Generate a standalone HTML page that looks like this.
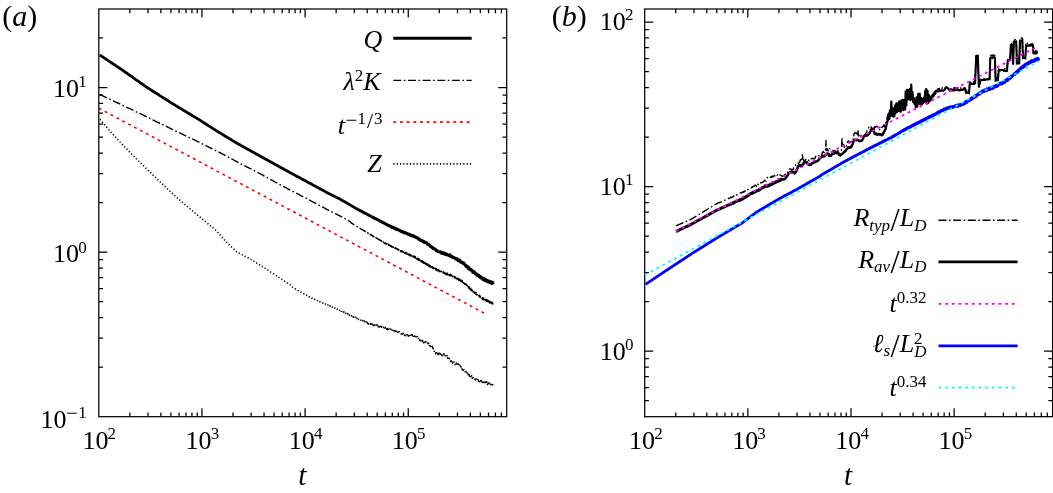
<!DOCTYPE html>
<html lang="en"><head><meta charset="utf-8"><title>Figure</title>
<style>html,body{margin:0;padding:0;background:#fff}svg{display:block;will-change:transform}</style></head>
<body>
<svg width="1053" height="493" viewBox="0 0 1053 493" font-family='"Liberation Serif", "DejaVu Serif", serif' fill="#000">
<rect x="98.8" y="9" width="407.9" height="407.7" fill="none" stroke="#000" stroke-width="1.25"/>
<path d="M129.85 416.7v-4.2M129.85 9v4.2M148.02 416.7v-4.2M148.02 9v4.2M160.9 416.7v-4.2M160.9 9v4.2M170.9 416.7v-4.2M170.9 9v4.2M179.07 416.7v-4.2M179.07 9v4.2M185.97 416.7v-4.2M185.97 9v4.2M191.95 416.7v-4.2M191.95 9v4.2M197.23 416.7v-4.2M197.23 9v4.2M201.95 416.7v-8.5M201.95 9v8.5M233 416.7v-4.2M233 9v4.2M251.17 416.7v-4.2M251.17 9v4.2M264.05 416.7v-4.2M264.05 9v4.2M274.05 416.7v-4.2M274.05 9v4.2M282.22 416.7v-4.2M282.22 9v4.2M289.12 416.7v-4.2M289.12 9v4.2M295.1 416.7v-4.2M295.1 9v4.2M300.38 416.7v-4.2M300.38 9v4.2M305.1 416.7v-8.5M305.1 9v8.5M336.15 416.7v-4.2M336.15 9v4.2M354.32 416.7v-4.2M354.32 9v4.2M367.2 416.7v-4.2M367.2 9v4.2M377.2 416.7v-4.2M377.2 9v4.2M385.37 416.7v-4.2M385.37 9v4.2M392.27 416.7v-4.2M392.27 9v4.2M398.25 416.7v-4.2M398.25 9v4.2M403.53 416.7v-4.2M403.53 9v4.2M408.25 416.7v-8.5M408.25 9v8.5M439.3 416.7v-4.2M439.3 9v4.2M457.47 416.7v-4.2M457.47 9v4.2M470.35 416.7v-4.2M470.35 9v4.2M480.35 416.7v-4.2M480.35 9v4.2M488.52 416.7v-4.2M488.52 9v4.2M495.42 416.7v-4.2M495.42 9v4.2M501.4 416.7v-4.2M501.4 9v4.2M98.8 367.14h4.2M506.7 367.14h-4.2M98.8 338.16h4.2M506.7 338.16h-4.2M98.8 317.6h4.2M506.7 317.6h-4.2M98.8 301.65h4.2M506.7 301.65h-4.2M98.8 288.62h4.2M506.7 288.62h-4.2M98.8 277.6h4.2M506.7 277.6h-4.2M98.8 268.05h4.2M506.7 268.05h-4.2M98.8 259.64h4.2M506.7 259.64h-4.2M98.8 252.1h8.5M506.7 252.1h-8.5M98.8 202.56h4.2M506.7 202.56h-4.2M98.8 173.58h4.2M506.7 173.58h-4.2M98.8 153.02h4.2M506.7 153.02h-4.2M98.8 137.07h4.2M506.7 137.07h-4.2M98.8 124.04h4.2M506.7 124.04h-4.2M98.8 113.02h4.2M506.7 113.02h-4.2M98.8 103.47h4.2M506.7 103.47h-4.2M98.8 95.06h4.2M506.7 95.06h-4.2M98.8 87.52h8.5M506.7 87.52h-8.5M98.8 37.98h4.2M506.7 37.98h-4.2" fill="none" stroke="#000" stroke-width="1.25"/>
<text x="82.4" y="449.15" font-size="26" text-anchor="start">10<tspan font-size="17" dx="-0.8" dy="-9.7">2</tspan></text>
<text x="185.55" y="449.15" font-size="26" text-anchor="start">10<tspan font-size="17" dx="-0.8" dy="-9.7">3</tspan></text>
<text x="288.7" y="449.15" font-size="26" text-anchor="start">10<tspan font-size="17" dx="-0.8" dy="-9.7">4</tspan></text>
<text x="391.85" y="449.15" font-size="26" text-anchor="start">10<tspan font-size="17" dx="-0.8" dy="-9.7">5</tspan></text>
<text x="53" y="97" font-size="26" text-anchor="start">10<tspan font-size="17" dx="-0.8" dy="-9.7">1</tspan></text>
<text x="53" y="262.3" font-size="26" text-anchor="start">10<tspan font-size="17" dx="-0.8" dy="-9.7">0</tspan></text>
<text x="40.5" y="427.5" font-size="26">10<tspan font-size="21" dx="-0.5" dy="-7.6">−</tspan><tspan font-size="17" dx="0.4" dy="-2.1">1</tspan></text>
<rect x="644.7" y="9" width="407.9" height="407.7" fill="none" stroke="#000" stroke-width="1.25"/>
<path d="M675.75 416.7v-4.2M675.75 9v4.2M693.92 416.7v-4.2M693.92 9v4.2M706.8 416.7v-4.2M706.8 9v4.2M716.8 416.7v-4.2M716.8 9v4.2M724.97 416.7v-4.2M724.97 9v4.2M731.87 416.7v-4.2M731.87 9v4.2M737.85 416.7v-4.2M737.85 9v4.2M743.13 416.7v-4.2M743.13 9v4.2M747.85 416.7v-8.5M747.85 9v8.5M778.9 416.7v-4.2M778.9 9v4.2M797.07 416.7v-4.2M797.07 9v4.2M809.95 416.7v-4.2M809.95 9v4.2M819.95 416.7v-4.2M819.95 9v4.2M828.12 416.7v-4.2M828.12 9v4.2M835.02 416.7v-4.2M835.02 9v4.2M841 416.7v-4.2M841 9v4.2M846.28 416.7v-4.2M846.28 9v4.2M851 416.7v-8.5M851 9v8.5M882.05 416.7v-4.2M882.05 9v4.2M900.22 416.7v-4.2M900.22 9v4.2M913.1 416.7v-4.2M913.1 9v4.2M923.1 416.7v-4.2M923.1 9v4.2M931.27 416.7v-4.2M931.27 9v4.2M938.17 416.7v-4.2M938.17 9v4.2M944.15 416.7v-4.2M944.15 9v4.2M949.43 416.7v-4.2M949.43 9v4.2M954.15 416.7v-8.5M954.15 9v8.5M985.2 416.7v-4.2M985.2 9v4.2M1003.37 416.7v-4.2M1003.37 9v4.2M1016.25 416.7v-4.2M1016.25 9v4.2M1026.25 416.7v-4.2M1026.25 9v4.2M1034.42 416.7v-4.2M1034.42 9v4.2M1041.32 416.7v-4.2M1041.32 9v4.2M1047.3 416.7v-4.2M1047.3 9v4.2M644.7 400.74h4.2M1052.6 400.74h-4.2M644.7 387.7h4.2M1052.6 387.7h-4.2M644.7 376.69h4.2M1052.6 376.69h-4.2M644.7 367.14h4.2M1052.6 367.14h-4.2M644.7 358.72h4.2M1052.6 358.72h-4.2M644.7 351.19h8.5M1052.6 351.19h-8.5M644.7 301.65h4.2M1052.6 301.65h-4.2M644.7 272.67h4.2M1052.6 272.67h-4.2M644.7 252.1h4.2M1052.6 252.1h-4.2M644.7 236.16h4.2M1052.6 236.16h-4.2M644.7 223.12h4.2M1052.6 223.12h-4.2M644.7 212.11h4.2M1052.6 212.11h-4.2M644.7 202.56h4.2M1052.6 202.56h-4.2M644.7 194.14h4.2M1052.6 194.14h-4.2M644.7 186.61h8.5M1052.6 186.61h-8.5M644.7 137.07h4.2M1052.6 137.07h-4.2M644.7 108.09h4.2M1052.6 108.09h-4.2M644.7 87.52h4.2M1052.6 87.52h-4.2M644.7 71.58h4.2M1052.6 71.58h-4.2M644.7 58.54h4.2M1052.6 58.54h-4.2M644.7 47.53h4.2M1052.6 47.53h-4.2M644.7 37.98h4.2M1052.6 37.98h-4.2M644.7 29.56h4.2M1052.6 29.56h-4.2M644.7 22.03h8.5M1052.6 22.03h-8.5" fill="none" stroke="#000" stroke-width="1.25"/>
<text x="629" y="449.15" font-size="26" text-anchor="start">10<tspan font-size="17" dx="-0.8" dy="-9.7">2</tspan></text>
<text x="732.15" y="449.15" font-size="26" text-anchor="start">10<tspan font-size="17" dx="-0.8" dy="-9.7">3</tspan></text>
<text x="835.3" y="449.15" font-size="26" text-anchor="start">10<tspan font-size="17" dx="-0.8" dy="-9.7">4</tspan></text>
<text x="938.45" y="449.15" font-size="26" text-anchor="start">10<tspan font-size="17" dx="-0.8" dy="-9.7">5</tspan></text>
<text x="599.85" y="29.8" font-size="26" text-anchor="start">10<tspan font-size="17" dx="-0.8" dy="-9.7">2</tspan></text>
<text x="599.85" y="195" font-size="26" text-anchor="start">10<tspan font-size="17" dx="-0.8" dy="-9.7">1</tspan></text>
<text x="599.85" y="359.9" font-size="26" text-anchor="start">10<tspan font-size="17" dx="-0.8" dy="-9.7">0</tspan></text>
<text x="302.2" y="485.1" font-size="29" font-style="italic" text-anchor="middle">t</text>
<text x="848.1" y="485.1" font-size="29" font-style="italic" text-anchor="middle">t</text>
<text x="2.3" y="25.7" font-size="30">(<tspan font-style="italic">a</tspan>)</text>
<text x="551.8" y="25.5" font-size="30">(<tspan font-style="italic">b</tspan>)</text>
<path d="M98.8 108.2L486.6 314.47" fill="none" stroke="#ff0000" stroke-width="1.6" stroke-dasharray="2.9 3.77"/>
<path d="M99.8 119.3L100.8 120.45L101.8 121.6L102.8 122.76L103.8 123.91L104.8 125.06L105.8 126.21L106.8 127.36L107.8 128.51L108.8 129.67L109.8 130.81L110.8 131.95L111.8 133.06L112.8 134.16L113.8 135.25L114.8 136.33L115.8 137.42L116.8 138.51L117.8 139.6L118.8 140.68L119.8 141.77L120.8 142.86L121.8 143.94L122.8 144.99L123.8 146.03L124.8 147.05L125.8 148.08L126.8 149.1L127.8 150.12L128.8 151.15L129.8 152.17L130.8 153.19L131.8 154.22L132.8 155.24L133.8 156.26L134.8 157.28L135.8 158.28L136.8 159.27L137.8 160.25L138.8 161.23L139.8 162.2L140.8 163.18L141.8 164.16L142.8 165.13L143.8 166.11L144.8 167.09L145.8 168.07L146.8 169.04L147.8 170.02L148.8 170.99L149.8 171.96L150.8 172.92L151.8 173.88L152.8 174.84L153.8 175.81L154.8 176.77L155.8 177.73L156.8 178.69L157.8 179.66L158.8 180.62L159.8 181.58L160.8 182.54L161.8 183.5L162.8 184.44L163.8 185.38L164.8 186.32L165.8 187.26L166.8 188.2L167.8 189.14L168.8 190.08L169.8 191.02L170.8 191.96L171.8 192.9L172.8 193.84L173.8 194.78L174.8 195.7L175.8 196.59L176.8 197.47L177.8 198.33L178.8 199.2L179.8 200.06L180.8 200.92L181.8 201.79L182.8 202.65L183.8 203.51L184.8 204.38L185.8 205.24L186.8 206.1L187.8 206.96L188.8 207.81L189.8 208.65L190.8 209.48L191.8 210.32L192.8 211.15L193.8 211.98L194.8 212.82L195.8 213.65L196.8 214.48L197.8 215.32L198.8 216.15L199.8 216.98L200.8 217.81L201.8 218.64L202.8 219.47L203.8 220.29L204.8 221.11L205.8 221.93L206.8 222.75L207.8 223.57L208.8 224.39L209.8 225.21L210.8 226.03L211.8 226.85L212.8 227.67L213.8 228.49L214.8 229.33L215.8 230.23L216.8 231.24L217.8 232.33L218.8 233.45L219.8 234.58L220.8 235.7L221.8 236.83L222.8 237.95L223.8 239.08L224.8 240.2L225.8 241.3L226.8 242.35L227.8 243.35L228.8 244.33L229.8 245.3L230.8 246.27L231.8 247.24L232.8 248.21L233.8 249.18L234.8 250.14L235.8 251.05L236.8 251.83L237.8 252.46L238.8 253.01L239.8 253.54L240.8 254.06L241.8 254.59L242.8 255.12L243.8 255.64L244.8 256.17L245.8 256.69L246.8 257.22L247.8 257.75L248.8 258.27L249.8 258.8L250.8 259.34L251.8 259.9L252.8 260.51L253.8 261.14L254.8 261.78L255.8 262.42L256.8 263.05L257.8 263.69L258.8 264.33L259.8 264.97L260.8 265.61L261.8 266.25L262.8 266.88L263.8 267.52L264.8 268.16L265.8 268.8L266.8 269.45L267.8 270.1L268.8 270.77L269.8 271.43L270.8 272.1L271.8 272.77L272.8 273.43L273.8 274.1L274.8 274.77L275.8 275.43L276.8 276.1L277.8 276.77L278.8 277.43L279.8 278.1L280.8 278.77L281.8 279.43L282.8 280.1L283.8 280.76L284.8 281.43L285.8 282.09L286.8 282.76L287.8 283.42L288.8 284.09L289.8 284.75L290.8 285.41L291.05 286.08L291.3 286.24L291.55 286.41L291.8 286.57L292.05 286.74L292.3 286.9L292.55 287.06L292.8 287.24L293.05 287.39L293.3 287.57L293.55 287.72L293.8 287.88L294.05 288.07L294.3 288.26L294.55 288.38L294.8 288.55L295.05 288.74L295.3 288.93L295.55 289.06L295.8 289.21L296.05 289.43L296.3 289.49L296.55 289.72L296.8 289.82L297.05 289.95L297.3 290.09L297.55 290.26L297.8 290.47L298.05 290.53L298.3 290.72L298.55 290.87L298.8 290.97L299.05 291.13L299.3 291.2L299.55 291.33L299.8 291.49L300.05 291.71L300.3 291.8L300.55 291.92L300.8 292.11L301.05 292.22L301.3 292.33L301.55 292.56L301.8 292.68L302.05 292.73L302.3 292.94L302.55 293.07L302.8 293.28L303.05 293.39L303.3 293.43L303.55 293.72L303.8 293.67L304.05 293.87L304.3 294.09L304.55 294.08L304.8 294.3L305.05 294.33L305.3 294.62L305.55 294.79L305.8 294.88L306.05 295.09L306.3 295.08L306.55 295.32L306.8 295.44L307.05 295.57L307.3 295.67L307.55 295.92L307.8 296.09L308.05 296.09L308.3 296.29L308.55 296.24L308.8 296.58L309.05 296.7L309.3 296.95L309.55 297.03L309.8 297L310.05 297.17L310.3 297.4L310.55 297.31L310.8 297.6L311.05 297.63L311.3 297.74L311.55 297.84L311.8 298.22L312.05 298.12L312.3 298.28L312.55 298.45L312.8 298.75L313.05 298.57L313.3 298.83L313.55 298.98L313.8 299.22L314.05 299.31L314.3 299.44L314.55 299.32L314.8 299.49L315.05 299.57L315.3 299.9L315.55 300.05L315.8 299.82L316.05 299.94L316.3 300.07L316.55 300.19L316.8 300.41L317.05 300.57L317.3 300.53L317.55 300.52L317.8 300.82L318.05 300.91L318.3 301.12L318.55 301.41L318.8 301.4L319.05 301.43L319.3 301.59L319.55 301.73L319.8 301.54L320.05 302.07L320.3 302.12L320.55 302.28L320.8 302.36L321.05 302.26L321.3 302.38L321.55 302.33L321.8 302.72L322.05 302.53L322.3 302.64L322.55 302.83L322.8 302.92L323.05 303.12L323.3 303.08L323.55 303.16L323.8 303.35L324.05 303.43L324.3 303.69L324.55 303.61L324.8 304.21L325.05 304.17L325.3 304.01L325.55 304.18L325.8 304.35L326.05 304.47L326.3 304.43L326.55 304.98L326.8 305.18L327.05 304.96L327.3 305.08L327.55 304.94L327.8 305.05L328.05 305.31L328.3 305.36L328.55 305.82L328.8 305.5L329.05 305.51L329.3 306.21L329.55 306.04L329.8 305.89L330.05 306.25L330.3 306.01L330.55 306.45L330.8 306.85L331.05 306.88L331.3 306.87L331.55 306.67L331.8 306.85L332.05 306.81L332.3 307.33L332.55 307.27L332.8 307.54L333.05 307.33L333.3 307.35L333.55 307.88L333.8 308.11L334.05 308.11L334.3 308.18L334.55 308.29L334.8 308.34L335.05 308.06L335.3 308.38L335.55 308.36L335.8 308.21L336.05 308.31L336.3 308.6L336.55 308.69L336.8 309.13L337.05 309.44L337.3 309.14L337.55 309.63L337.8 309.77L338.05 309.85L338.3 309.48L338.55 309.47L338.8 309.57L339.05 309.65L339.3 309.76L339.55 310.2L339.8 310.53L340.05 310.59L340.3 310.39L340.55 310.64L340.8 310.87L341.05 310.36L341.3 310.96L341.55 311.29L341.8 311.29L342.05 311.37L342.3 311.25L342.55 311.11L342.8 311.76L343.05 311.48L343.3 312.02L343.55 312.3L343.8 311.92L344.05 312.05L344.3 312.67L344.55 312.6L344.8 312.23L345.05 312.31L345.3 312.46L345.55 313.29L345.8 313.33L346.05 312.85L346.3 313.61L346.55 313.89L346.8 313.71L347.05 313.55L347.3 313.87L347.55 313.6L347.8 313.62L348.05 314.67L348.3 314.49L348.55 314.5L348.8 315.03L349.05 314.67L349.3 315.23L349.55 315.32L349.8 314.84L350.05 315.01L350.3 315.17L350.55 315.25L350.8 315.73L351.05 315.53L351.3 315.81L351.55 315.64L351.8 316.56L352.05 316.12L352.3 316.34L352.55 316.59L352.8 317.04L353.05 316.66L353.3 317.29L353.55 316.96L353.8 317.1L354.05 317.21L354.3 316.78L354.55 317.33L354.8 317.16L355.05 317.08L355.3 318.04L355.55 317.47L355.8 317.9L356.05 318.29L356.3 318.21L356.55 318.06L356.8 318.38L357.05 318.53L357.3 318.89L357.55 318.24L357.8 318.86L358.05 318.61L358.3 318.75L358.55 319.42L358.8 319.22L359.05 319.39L359.3 319.73L359.55 320.01L359.8 319.58L360.05 319.88L360.3 319.86L360.55 319.98L360.8 320.3L361.05 320.12L361.3 320.32L361.55 320.37L361.8 321.02L362.05 320.84L362.3 321.16L362.55 321.35L362.8 320.64L363.05 321.11L363.3 321.68L363.55 321.66L363.8 320.91L364.05 321L364.3 321.5L364.55 321.15L364.8 321.46L365.05 321.36L365.3 322.21L365.55 322.46L365.8 322.71L366.05 321.88L366.3 322.69L366.55 322.72L366.8 322.16L367.05 323.21L367.3 323.41L367.55 322.54L367.8 323.58L368.05 322.95L368.3 323.14L368.55 323.88L368.8 323.76L369.05 322.96L369.3 323.38L369.55 323.57L369.8 323.41L370.05 323.29L370.3 323.52L370.55 324.14L370.8 323.27L371.05 324.06L371.3 323.98L371.55 323.48L371.8 323.97L372.05 324.44L372.3 324.36L372.55 323.82L372.8 325.16L373.05 324.96L373.3 325.29L373.55 324.16L373.8 324.45L374.05 324.21L374.3 325.32L374.55 324.67L374.8 324.55L375.05 325.03L375.3 325.8L375.55 325.74L375.8 325.02L376.05 324.93L376.3 326.11L376.55 325.68L376.8 325.94L377.05 325.13L377.3 325.15L377.55 326.14L377.8 325.83L378.05 325.38L378.3 326.73L378.55 326.35L378.8 326.67L379.05 325.68L379.3 326.9L379.55 325.8L379.8 327.06L380.05 326.52L380.3 326.42L380.55 326.81L380.8 327.45L381.05 326.53L381.3 326.39L381.55 327.07L381.8 326.7L382.05 326.57L382.3 326.73L382.55 326.63L382.8 326.94L383.05 327.18L383.3 327.25L383.55 328.03L383.8 327.38L384.05 327.78L384.3 327.35L384.55 327.7L384.8 327.26L385.05 327.7L385.3 327.41L385.55 328.62L385.8 328.41L386.05 327.91L386.3 328.45L386.55 329.27L386.8 328.01L387.05 329.24L387.3 328.7L387.55 328.88L387.8 329.51L388.05 328.87L388.3 329.13L388.55 329.51L388.8 330.07L389.05 329.1L389.3 329.99L389.55 329.86L389.8 329.82L390.05 329.52L390.3 329.5L390.55 329.09L390.8 329.29L391.05 329.27L391.3 330.47L391.55 329.73L391.8 329.66L392.05 329.6L392.3 330.96L392.55 331.09L392.8 330.83L393.05 330.25L393.3 330.26L393.55 330.42L393.8 330.79L394.05 330.34L394.3 330.92L394.55 330.68L394.8 331.98L395.05 332.08L395.3 331.41L395.55 330.96L395.8 332.31L396.05 331.23L396.3 331.39L396.55 330.84L396.8 331.6L397.05 331.84L397.3 331.98L397.55 331.52L397.8 332.15L398.05 331.33L398.3 331.89L398.55 331.66L398.8 332.31L399.05 331.75L399.3 331.81L399.55 332.41L399.8 332.37L400.05 333.11L400.3 333.1L400.55 333.61L400.8 333.53L401.05 333.73L401.3 334.13L401.55 333.32L401.8 333.29L402.05 334.61L402.3 333.15L402.55 334.32L402.8 334.26L403.05 333.23L403.3 334.82L403.55 335.02L403.8 334.61L404.05 334.91L404.3 335.15L404.55 333.97L404.8 334.8L405.05 334.85L405.3 335.58L405.55 335.61L405.8 335.74L406.05 335.36L406.3 336.02L406.55 335.68L406.8 335.77L407.05 334.93L407.3 334.57L407.55 334.79L407.8 335.26L408.05 334.79L408.3 336.23L408.55 335.68L408.8 335.82L409.05 335.83L409.3 335.93L409.55 335.55L409.8 334.58L410.05 336.16L410.3 336.06L410.55 335.56L410.8 335.62L411.05 335.87L411.3 334.67L411.55 336.02L411.8 335.04L412.05 334.67L412.3 335.06L412.55 336L412.8 334.93L413.05 336.02L413.3 336.51L413.55 335.53L413.8 335.31L414.05 335.52L414.3 336L414.55 336.23L414.8 335.98L415.05 336.09L415.3 335.05L415.55 335.33L415.8 335.68L416.05 336.84L416.3 336.11L416.55 336.86L416.8 335.88L417.05 336.17L417.3 336.81L417.55 337.87L417.8 338.13L418.05 338.3L418.3 337.69L418.55 338.38L418.8 338.48L419.05 338.69L419.3 338.14L419.55 340.02L419.8 338.73L420.05 340.61L420.3 340.71L420.55 338.91L420.8 340.05L421.05 341.02L421.3 341.51L421.55 340.53L421.8 340.29L422.05 340.32L422.3 342.07L422.55 340.58L422.8 341.53L423.05 340.69L423.3 341.67L423.55 342.74L423.8 341.04L424.05 342.7L424.3 342.13L424.55 343.1L424.8 342.81L425.05 341.88L425.3 343.5L425.55 342.7L425.8 341.78L426.05 341.85L426.3 343.08L426.55 343.11L426.8 342.9L427.05 342.65L427.3 343.24L427.55 343.3L427.8 344.62L428.05 342.82L428.3 344.67L428.55 345L428.8 343.46L429.05 345.45L429.3 345.09L429.55 345.67L429.8 344.39L430.05 344.72L430.3 344.97L430.55 346.59L430.8 345.84L431.05 345.51L431.3 345.98L431.55 345.94L431.8 345.73L432.05 346.17L432.3 348.32L432.55 347.43L432.8 349.39L433.05 348.18L433.3 348.66L433.55 349.69L433.8 349.36L434.05 350.24L434.3 352.01L434.55 352.21L434.8 352.41L435.05 352.35L435.3 353.27L435.55 353.57L435.8 352.86L436.05 353.51L436.3 351.99L436.55 353.76L436.8 353.18L437.05 354.03L437.3 353.82L437.55 352.99L437.8 352.45L438.05 354.66L438.3 352.73L438.55 353.62L438.8 353.34L439.05 353.27L439.3 354.4L439.55 355.03L439.8 353.29L440.05 354.32L440.3 353.47L440.55 354.15L440.8 353.78L441.05 353.26L441.3 353.28L441.55 353.44L441.8 355.22L442.05 354.24L442.3 353.59L442.55 355.34L442.8 355.61L443.05 354.28L443.3 353.55L443.55 353.73L443.8 353.52L444.05 354.2L444.3 353.66L444.55 354.12L444.8 354.25L445.05 355.11L445.3 356.07L445.55 355.9L445.8 355.22L446.05 355.39L446.3 355.91L446.55 355.78L446.8 355.93L447.05 355.48L447.3 356.3L447.55 358.31L447.8 356.49L448.05 357.72L448.3 358.32L448.55 359.2L448.8 357.87L449.05 358.3L449.3 358.53L449.55 359.2L449.8 359.6L450.05 361.16L450.3 361.16L450.55 361.48L450.8 359.62L451.05 359.91L451.3 361.81L451.55 362.49L451.8 361.65L452.05 362.15L452.3 360.84L452.55 361.98L452.8 363.47L453.05 363.38L453.3 363.58L453.55 364.01L453.8 362.33L454.05 362.11L454.3 362.34L454.55 363.39L454.8 363.91L455.05 364.68L455.3 364.26L455.55 364.19L455.8 364.61L456.05 363.97L456.3 364.33L456.55 363.17L456.8 365.15L457.05 363.9L457.3 365.74L457.55 365.18L457.8 364.45L458.05 364.14L458.3 364.59L458.55 365.69L458.8 365.99L459.05 364.66L459.3 364.74L459.55 366.05L459.8 366.37L460.05 366.06L460.3 365.87L460.55 367.03L460.8 365.78L461.05 366.73L461.3 367.37L461.55 368.86L461.8 368.32L462.05 369.16L462.3 368.39L462.55 368.04L462.8 368.32L463.05 370.35L463.3 369.96L463.55 369.22L463.8 368.75L464.05 370.2L464.3 370.89L464.55 370.5L464.8 370.34L465.05 371.62L465.3 372.5L465.55 371L465.8 370.77L466.05 371.77L466.3 372.21L466.55 373.09L466.8 372.11L467.05 373.84L467.3 373.91L467.55 373.54L467.8 373L468.05 375.13L468.3 373.69L468.55 375.16L468.8 373.89L469.05 374.07L469.3 375.62L469.55 374.66L469.8 376.5L470.05 375.56L470.3 374.98L470.55 375.27L470.8 375.95L471.05 376.76L471.3 377.64L471.55 375.81L471.8 376.6L472.05 376.33L472.3 378.37L472.55 376.44L472.8 376.36L473.05 376.53L473.3 377.49L473.55 378.88L473.8 378.97L474.05 378.72L474.3 379.5L474.55 379.46L474.8 378.08L475.05 377.84L475.3 379.84L475.55 379.49L475.8 377.83L476.05 379.54L476.3 378.94L476.55 379.06L476.8 379.07L477.05 378.79L477.3 378.5L477.55 379.31L477.8 379.62L478.05 381.25L478.3 379.29L478.55 381.51L478.8 379.74L479.05 380.24L479.3 381.51L479.55 381.62L479.8 380.75L480.05 379.9L480.3 381.06L480.55 380.9L480.8 382.35L481.05 380.63L481.3 381.14L481.55 382.55L481.8 380.46L482.05 381.49L482.3 382.57L482.55 382.54L482.8 380.8L483.05 380.86L483.3 381.01L483.55 383.23L483.8 381.65L484.05 382.95L484.3 383.41L484.55 382.09L484.8 382L485.05 383.79L485.3 383.01L485.55 382.2L485.8 383.42L486.05 382.49L486.3 382.47L486.55 381.86L486.8 383.81L487.05 384.29L487.3 383.65L487.55 384.48L487.8 382.25L488.05 382.84L488.3 383.49L488.55 384.74L488.8 384.78L489.05 383.4L489.3 383.1L489.55 383.58L489.8 383.77L490.05 384.89L490.3 383.06L490.55 384.64L490.8 384.51L491.05 384.75L491.3 384.65L491.55 384.27L491.8 383.59L492.05 383.6L492.3 383.73L492.55 384.8L492.8 383.07L493.05 383.38" fill="none" stroke="#000" stroke-width="1.6" stroke-dasharray="1.2 2.13" stroke-linejoin="round"/>
<path d="M99.8 94.5L100.8 94.97L101.8 95.44L102.8 95.92L103.8 96.39L104.8 96.86L105.8 97.33L106.8 97.81L107.8 98.28L108.8 98.75L109.8 99.22L110.8 99.69L111.8 100.17L112.8 100.64L113.8 101.11L114.8 101.58L115.8 102.06L116.8 102.53L117.8 103L118.8 103.47L119.8 103.94L120.8 104.42L121.8 104.89L122.8 105.37L123.8 105.85L124.8 106.33L125.8 106.8L126.8 107.28L127.8 107.76L128.8 108.24L129.8 108.72L130.8 109.2L131.8 109.67L132.8 110.15L133.8 110.63L134.8 111.11L135.8 111.59L136.8 112.07L137.8 112.54L138.8 113.02L139.8 113.5L140.8 113.98L141.8 114.46L142.8 114.93L143.8 115.41L144.8 115.89L145.8 116.37L146.8 116.85L147.8 117.34L148.8 117.83L149.8 118.33L150.8 118.82L151.8 119.31L152.8 119.8L153.8 120.29L154.8 120.79L155.8 121.28L156.8 121.77L157.8 122.26L158.8 122.75L159.8 123.25L160.8 123.74L161.8 124.23L162.8 124.72L163.8 125.22L164.8 125.71L165.8 126.2L166.8 126.69L167.8 127.18L168.8 127.68L169.8 128.17L170.8 128.66L171.8 129.15L172.8 129.63L173.8 130.11L174.8 130.59L175.8 131.07L176.8 131.55L177.8 132.03L178.8 132.5L179.8 132.98L180.8 133.46L181.8 133.94L182.8 134.42L183.8 134.9L184.8 135.37L185.8 135.85L186.8 136.33L187.8 136.81L188.8 137.29L189.8 137.77L190.8 138.24L191.8 138.72L192.8 139.2L193.8 139.68L194.8 140.16L195.8 140.64L196.8 141.12L197.8 141.61L198.8 142.1L199.8 142.6L200.8 143.1L201.8 143.6L202.8 144.1L203.8 144.6L204.8 145.1L205.8 145.6L206.8 146.1L207.8 146.6L208.8 147.1L209.8 147.6L210.8 148.1L211.8 148.6L212.8 149.1L213.8 149.6L214.8 150.1L215.8 150.6L216.8 151.1L217.8 151.6L218.8 152.1L219.8 152.6L220.8 153.1L221.8 153.6L222.8 154.11L223.8 154.64L224.8 155.17L225.8 155.71L226.8 156.25L227.8 156.78L228.8 157.32L229.8 157.86L230.8 158.39L231.8 158.93L232.8 159.47L233.8 160.01L234.8 160.54L235.8 161.08L236.8 161.62L237.8 162.15L238.8 162.69L239.8 163.23L240.8 163.76L241.8 164.29L242.8 164.8L243.8 165.31L244.8 165.82L245.8 166.33L246.8 166.83L247.8 167.34L248.8 167.85L249.8 168.35L250.8 168.86L251.8 169.37L252.8 169.88L253.8 170.38L254.8 170.89L255.8 171.4L256.8 171.93L257.8 172.47L258.8 173.02L259.8 173.57L260.8 174.12L261.8 174.67L262.8 175.22L263.8 175.77L264.8 176.32L265.8 176.86L266.8 177.41L267.8 177.96L268.8 178.51L269.8 179.06L270.8 179.61L271.8 180.16L272.8 180.71L273.8 181.26L274.8 181.81L275.8 182.36L276.8 182.91L277.8 183.46L278.8 184.01L279.8 184.56L280.8 185.1L281.8 185.64L282.8 186.17L283.8 186.69L284.8 187.21L285.8 187.73L286.8 188.25L287.8 188.77L288.8 189.29L289.8 189.81L290.8 190.33L291.8 190.85L292.8 191.37L293.8 191.89L294.8 192.41L295.8 192.93L296.8 193.45L297.8 193.97L298.8 194.49L299.8 195.01L300.8 195.53L301.8 196.05L302.8 196.57L303.8 197.09L304.8 197.6L305.8 198.13L306.8 198.65L307.8 199.18L308.8 199.71L309.8 200.24L310.8 200.77L311.8 201.31L312.8 201.84L313.8 202.38L314.8 202.91L315.8 203.44L316.8 203.98L317.8 204.51L318.8 205.04L319.8 205.58L320.8 206.11L321.8 206.64L322.8 207.18L323.8 207.71L324.8 208.24L325.8 208.78L326.8 209.31L327.8 209.85L328.8 210.38L329.8 210.91L330.8 211.45L331.8 211.97L332.8 212.49L333.8 212.99L334.8 213.49L335.8 213.99L336.8 214.48L337.8 214.98L338.8 215.47L339.8 215.97L340.8 216.47L341.8 216.96L342.8 217.46L343.8 217.96L344.8 218.49L345.8 219.06L346.8 219.66L347.8 220.28L348.8 220.9L349.8 221.52L350.8 222.15L350.97 222.77L351.14 222.87L351.31 222.97L351.48 223.07L351.65 223.19L351.82 223.29L351.99 223.43L352.16 223.53L352.33 223.64L352.5 223.7L352.67 223.8L352.84 223.9L353.01 224.04L353.18 224.16L353.35 224.24L353.52 224.33L353.69 224.45L353.86 224.58L354.03 224.69L354.2 224.8L354.37 224.92L354.54 225.01L354.71 225.05L354.88 225.24L355.05 225.28L355.22 225.42L355.39 225.5L355.56 225.66L355.73 225.68L355.9 225.79L356.07 225.9L356.24 225.99L356.41 226.21L356.58 226.27L356.75 226.33L356.92 226.44L357.09 226.66L357.26 226.67L357.43 226.72L357.6 226.94L357.77 227.01L357.94 227.19L358.11 227.1L358.28 227.29L358.45 227.46L358.62 227.57L358.79 227.7L358.96 227.59L359.13 227.76L359.3 227.82L359.47 227.93L359.64 228.23L359.81 228.24L359.98 228.43L360.15 228.39L360.32 228.62L360.49 228.61L360.66 228.66L360.83 228.91L361 229.06L361.17 228.92L361.34 229.17L361.51 229.28L361.68 229.26L361.85 229.41L362.02 229.44L362.19 229.56L362.36 229.68L362.53 229.89L362.7 230.01L362.87 229.97L363.04 230L363.21 230.21L363.38 230.44L363.55 230.36L363.72 230.51L363.89 230.57L364.06 230.89L364.23 230.91L364.4 230.82L364.57 230.94L364.74 231.15L364.91 231.32L365.08 231.46L365.25 231.34L365.42 231.47L365.59 231.79L365.76 231.77L365.93 231.82L366.1 231.93L366.27 232.31L366.44 232.13L366.61 232.34L366.78 232.35L366.95 232.48L367.12 232.78L367.29 232.95L367.46 232.76L367.63 232.78L367.8 233.13L367.97 232.98L368.14 232.98L368.31 233.52L368.48 233.38L368.65 233.68L368.82 233.58L368.99 233.91L369.16 233.8L369.33 233.75L369.5 233.77L369.67 234.15L369.84 234.3L370.01 234.54L370.18 234.21L370.35 234.59L370.52 234.55L370.69 234.73L370.86 234.63L371.03 234.81L371.2 235.04L371.37 235.37L371.54 235L371.71 235.32L371.88 235.6L372.05 235.8L372.22 235.45L372.39 235.51L372.56 236.09L372.73 236.21L372.9 236.02L373.07 235.86L373.24 236.49L373.41 236.26L373.58 236.68L373.75 236.61L373.92 236.84L374.09 236.51L374.26 237.01L374.43 236.75L374.6 236.97L374.77 237.36L374.94 237.45L375.11 237.12L375.28 237.24L375.45 237.47L375.62 237.65L375.79 237.65L375.96 237.57L376.13 237.76L376.3 238.19L376.47 238.41L376.64 237.91L376.81 238.38L376.98 238.62L377.15 238.2L377.32 238.88L377.49 238.46L377.66 238.91L377.83 238.97L378 239.13L378.17 238.99L378.34 239.18L378.51 239.4L378.68 239.38L378.85 239.66L379.02 239.6L379.19 239.69L379.36 239.47L379.53 240.03L379.7 240.03L379.87 239.93L380.04 240.45L380.21 240.57L380.38 240.41L380.55 240.28L380.72 240.62L380.89 240.42L381.06 240.54L381.23 240.89L381.4 240.7L381.57 241.09L381.74 241.25L381.91 240.95L382.08 241.56L382.25 241.18L382.42 241.84L382.59 241.98L382.76 241.85L382.93 241.55L383.1 242.04L383.27 242.02L383.44 242.62L383.61 241.99L383.78 242.73L383.95 242.96L384.12 242.81L384.29 242.98L384.46 242.5L384.63 243.31L384.8 242.95L384.97 243.47L385.14 243.52L385.31 242.91L385.48 243.58L385.65 243.8L385.82 243.07L385.99 243.42L386.16 243.9L386.33 243.41L386.5 244.21L386.67 243.69L386.84 244.3L387.01 243.73L387.18 244.17L387.35 244.67L387.52 244.04L387.69 244.18L387.86 244.51L388.03 244.41L388.2 244.21L388.37 244.44L388.54 244.5L388.71 245.38L388.88 245.2L389.05 245.51L389.22 244.85L389.39 245.57L389.56 244.96L389.73 245.48L389.9 245.68L390.07 245.47L390.24 246.1L390.41 245.85L390.58 245.96L390.75 246.37L390.92 245.62L391.09 246.67L391.26 246.36L391.43 246.19L391.6 246.72L391.77 246.21L391.94 247.1L392.11 246.73L392.28 246.57L392.45 247.11L392.62 246.83L392.79 246.62L392.96 247.35L393.13 246.64L393.3 247.61L393.47 247.04L393.64 247.57L393.81 248.06L393.98 247.68L394.15 247.86L394.32 247.53L394.49 247.25L394.66 247.37L394.83 247.59L395 248.24L395.17 248.1L395.34 248.28L395.51 248.83L395.68 247.99L395.85 248.19L396.02 248.8L396.19 248.11L396.36 248.17L396.53 248.69L396.7 248.46L396.87 248.86L397.04 248.78L397.21 249.31L397.38 249.41L397.55 249L397.72 249.62L397.89 249.52L398.06 249.17L398.23 250.28L398.4 249.48L398.57 249.44L398.74 249.45L398.91 250.24L399.08 250.63L399.25 250.6L399.42 250.19L399.59 250.09L399.76 249.84L399.93 250.77L400.1 250.74L400.27 250.54L400.44 251.02L400.61 250.83L400.78 251.58L400.95 251.39L401.12 250.81L401.29 251.78L401.46 250.69L401.63 251.44L401.8 251.34L401.97 251.19L402.14 251.01L402.31 252.09L402.48 251.1L402.65 251.92L402.82 252.55L402.99 251.5L403.16 251.65L403.33 252.3L403.5 252.23L403.67 252.49L403.84 252.81L404.01 251.97L404.18 252.24L404.35 252.29L404.52 252L404.69 253.29L404.86 253.21L405.03 253.19L405.2 252.22L405.37 253.52L405.54 253.45L405.71 253.11L405.88 253.59L406.05 253.23L406.22 252.97L406.39 252.86L406.56 253.12L406.73 252.9L406.9 253.42L407.07 254.12L407.24 254.11L407.41 254.41L407.58 254.28L407.75 253.67L407.92 254.18L408.09 254.07L408.26 254.69L408.43 254.35L408.6 254.02L408.77 254.68L408.94 255.26L409.11 254.16L409.28 255.28L409.45 253.98L409.62 254.44L409.79 254.48L409.96 255.36L410.13 255.75L410.3 255.51L410.47 254.91L410.64 255.87L410.81 255.05L410.98 254.98L411.15 256.14L411.32 255.76L411.49 255.93L411.66 255.96L411.83 256.55L412 255.78L412.17 256.47L412.34 256.31L412.51 256.65L412.68 256.02L412.85 256.58L413.02 256.4L413.19 256.04L413.36 255.95L413.53 256.72L413.7 255.88L413.87 257.37L414.04 256.16L414.21 256.04L414.38 256.27L414.55 257.77L414.72 256.85L414.89 256.59L415.06 256.49L415.23 256.61L415.4 257.84L415.57 257.84L415.74 258.04L415.91 258.21L416.08 257.14L416.25 258.16L416.42 257.86L416.59 258.77L416.76 258.88L416.93 259.11L417.1 257.74L417.27 259.28L417.44 259.47L417.61 259.62L417.78 258.22L417.95 258.5L418.12 258.43L418.29 258.39L418.46 259.97L418.63 260.01L418.8 259.79L418.97 260.25L419.14 259.99L419.31 259.46L419.48 259.22L419.65 259.32L419.82 260.64L419.99 259.72L420.16 260.03L420.33 260.33L420.5 259.68L420.67 260.22L420.84 260.37L421.01 261.29L421.18 260.74L421.35 260.75L421.52 262.08L421.69 261.31L421.86 262.07L422.03 261.73L422.2 260.71L422.37 261.54L422.54 261.69L422.71 262.45L422.88 261.72L423.05 262.52L423.22 262.3L423.39 261.78L423.56 263.14L423.73 261.73L423.9 263.27L424.07 262.09L424.24 261.86L424.41 262.36L424.58 263.57L424.75 264.1L424.92 262.27L425.09 263.34L425.26 263.44L425.43 264.16L425.6 263.04L425.77 263.76L425.94 263.57L426.11 264.63L426.28 263.59L426.45 265.06L426.62 263.84L426.79 263.8L426.96 264.87L427.13 264.56L427.3 263.88L427.47 265.03L427.64 264.01L427.81 265.52L427.98 265.43L428.15 265.7L428.32 265.48L428.49 265.02L428.66 265.21L428.83 265.28L429 266.37L429.17 264.85L429.34 266.55L429.51 264.91L429.68 265.36L429.85 265.57L430.02 266.94L430.19 266.23L430.36 266.07L430.53 267.17L430.7 265.96L430.87 266.51L431.04 266.74L431.21 267.28L431.38 267.37L431.55 267.24L431.72 266.74L431.89 266.79L432.06 266.54L432.23 268L432.4 267.73L432.57 267.98L432.74 266.93L432.91 267.56L433.08 268.32L433.25 268.02L433.42 267.21L433.59 267.97L433.76 268.91L433.93 267.7L434.1 267.7L434.27 268.01L434.44 268.91L434.61 269.28L434.78 267.99L434.95 268.08L435.12 268.36L435.29 268.61L435.46 269.09L435.63 268.46L435.8 268.88L435.97 268.7L436.14 270.36L436.31 269.96L436.48 268.8L436.65 270.61L436.82 268.98L436.99 269.63L437.16 270.92L437.33 270.64L437.5 270.6L437.67 270.1L437.84 269.71L438.01 270.68L438.18 269.71L438.35 269.99L438.52 270.44L438.69 269.82L438.86 270.64L439.03 271.51L439.2 271.39L439.37 271.08L439.54 271.43L439.71 271.17L439.88 270.6L440.05 271.6L440.22 271.27L440.39 272.01L440.56 272.41L440.73 271.53L440.9 271.88L441.07 272.3L441.24 271.71L441.41 271.38L441.58 272.43L441.75 272.81L441.92 272.66L442.09 272.58L442.26 272.94L442.43 272.66L442.6 272.64L442.77 272.33L442.94 272.11L443.11 272.8L443.28 271.8L443.45 272.51L443.62 273.3L443.79 273.22L443.96 273.11L444.13 272.42L444.3 272.82L444.47 272.95L444.64 273.34L444.81 272.98L444.98 273.57L445.15 274.15L445.32 272.71L445.49 273.72L445.66 274.03L445.83 273.31L446 273.57L446.17 274.6L446.34 272.79L446.51 273.86L446.68 273.16L446.85 274.46L447.02 274.84L447.19 274.06L447.36 273.29L447.53 274.3L447.7 274.29L447.87 274.7L448.04 274.36L448.21 274.67L448.38 275.11L448.55 274.56L448.72 274.4L448.89 275.54L449.06 274.12L449.23 275.13L449.4 274.61L449.57 275.41L449.74 274.19L449.91 275.98L450.08 274.78L450.25 274.25L450.42 274.75L450.59 275.06L450.76 274.35L450.93 275.22L451.1 275.29L451.27 275.92L451.44 275.29L451.61 275.19L451.78 275.17L451.95 276.28L452.12 276.75L452.29 276L452.46 275.46L452.63 276.71L452.8 275.97L452.97 275.68L453.14 275.61L453.31 276.99L453.48 277.14L453.65 276.88L453.82 276.64L453.99 276.91L454.16 276.33L454.33 277.9L454.5 276.77L454.67 277.43L454.84 277.88L455.01 277.97L455.18 277.37L455.35 277.11L455.52 277.71L455.69 276.96L455.86 278.47L456.03 277.6L456.2 278.69L456.37 277.61L456.54 277.92L456.71 277.77L456.88 278.21L457.05 277.82L457.22 277.55L457.39 279.08L457.56 278.29L457.73 278.31L457.9 278.52L458.07 278.96L458.24 278.95L458.41 279.46L458.58 279.6L458.75 279.1L458.92 280.32L459.09 280.27L459.26 278.77L459.43 280.4L459.6 280.65L459.77 280.5L459.94 279.3L460.11 280.78L460.28 280.48L460.45 279.34L460.62 279.42L460.79 281.4L460.96 280.9L461.13 280.2L461.3 280L461.47 280.19L461.64 280.48L461.81 281.67L461.98 280.92L462.15 280.66L462.32 282.29L462.49 282.19L462.66 281.07L462.83 282.64L463 282.21L463.17 282.7L463.34 282.62L463.51 283.22L463.68 283.16L463.85 283.41L464.02 282.28L464.19 283.43L464.36 283.27L464.53 283.85L464.7 283.4L464.87 284.45L465.04 283.95L465.21 283.53L465.38 283.64L465.55 283.61L465.72 284.48L465.89 283.77L466.06 284.75L466.23 284.26L466.4 285.12L466.57 285.3L466.74 285.54L466.91 286.35L467.08 284.8L467.25 286.63L467.42 286.04L467.59 286.39L467.76 286.76L467.93 287.27L468.1 286.5L468.27 286.75L468.44 288L468.61 286.39L468.78 287.67L468.95 287.83L469.12 286.78L469.29 288.11L469.46 288.41L469.63 289.07L469.8 288.03L469.97 289.5L470.14 288.71L470.31 288.82L470.48 289.81L470.65 288.24L470.82 289.77L470.99 289.75L471.16 289.33L471.33 290.54L471.5 289.7L471.67 290.08L471.84 290.33L472.01 290.98L472.18 290.01L472.35 290.6L472.52 290.72L472.69 291.14L472.86 291.83L473.03 290.9L473.2 292.11L473.37 291.4L473.54 291.73L473.71 291.41L473.88 292.01L474.05 293.08L474.22 292.57L474.39 292.97L474.56 292.18L474.73 292.28L474.9 292.38L475.07 293.08L475.24 293.3L475.41 293.73L475.58 292.37L475.75 293.86L475.92 294.32L476.09 293.76L476.26 292.9L476.43 293.53L476.6 293.07L476.77 293.57L476.94 295.16L477.11 294.66L477.28 294.88L477.45 295.27L477.62 295.64L477.79 295.18L477.96 295.31L478.13 295.46L478.3 295.73L478.47 295.66L478.64 295.95L478.81 295.15L478.98 296.18L479.15 295.89L479.32 296.63L479.49 295.43L479.66 295.72L479.83 295.56L480 297.16L480.17 297.57L480.34 297.18L480.51 296.74L480.68 297.77L480.85 297.83L481.02 297.5L481.19 297.02L481.36 297.23L481.53 297.59L481.7 297.51L481.87 297.85L482.04 298.39L482.21 299.09L482.38 297.44L482.55 298.57L482.72 297.63L482.89 297.9L483.06 299.38L483.23 299L483.4 299.78L483.57 298.93L483.74 298.16L483.91 299L484.08 299.5L484.25 300.27L484.42 300.44L484.59 299.51L484.76 299.47L484.93 298.93L485.1 300.1L485.27 299.32L485.44 299.28L485.61 299.08L485.78 299.14L485.95 300.58L486.12 299.54L486.29 301.31L486.46 299.64L486.63 301.28L486.8 299.88L486.97 299.74L487.14 301.22L487.31 300.35L487.48 301.41L487.65 300.4L487.82 300.21L487.99 301.74L488.16 301.7L488.33 302.06L488.5 301.89L488.67 300.68L488.84 301.85L489.01 302.09L489.18 301.68L489.35 302.7L489.52 301.43L489.69 302.93L489.86 302.51L490.03 301.18L490.2 301.27L490.37 302.62L490.54 303.04L490.71 301.64L490.88 302.19L491.05 303.1L491.22 302.06L491.39 303.52L491.56 302.85L491.73 302.08L491.9 302.77L492.07 303.26L492.24 303.06L492.41 303.6L492.58 302.61L492.75 303.98L492.92 303.18L493.09 303.84L493.26 303.92L493.43 303.61" fill="none" stroke="#000" stroke-width="1.4" stroke-dasharray="8 2.5 1.65 2.5" stroke-linejoin="round"/>
<path d="M99.8 55L100.8 55.67L101.8 56.33L102.8 57L103.8 57.67L104.8 58.33L105.8 59L106.8 59.67L107.8 60.33L108.8 61L109.8 61.67L110.8 62.33L111.8 63L112.8 63.67L113.8 64.33L114.8 65L115.8 65.67L116.8 66.33L117.8 67L118.8 67.67L119.8 68.33L120.8 69.01L121.8 69.69L122.8 70.39L123.8 71.09L124.8 71.79L125.8 72.5L126.8 73.2L127.8 73.9L128.8 74.61L129.8 75.31L130.8 76.01L131.8 76.72L132.8 77.42L133.8 78.12L134.8 78.83L135.8 79.53L136.8 80.23L137.8 80.94L138.8 81.64L139.8 82.35L140.8 83.05L141.8 83.75L142.8 84.46L143.8 85.16L144.8 85.86L145.8 86.56L146.8 87.24L147.8 87.9L148.8 88.54L149.8 89.18L150.8 89.81L151.8 90.45L152.8 91.09L153.8 91.73L154.8 92.37L155.8 93L156.8 93.64L157.8 94.28L158.8 94.92L159.8 95.56L160.8 96.19L161.8 96.83L162.8 97.47L163.8 98.11L164.8 98.74L165.8 99.38L166.8 100.02L167.8 100.66L168.8 101.3L169.8 101.93L170.8 102.57L171.8 103.2L172.8 103.81L173.8 104.42L174.8 105.02L175.8 105.62L176.8 106.22L177.8 106.82L178.8 107.43L179.8 108.03L180.8 108.63L181.8 109.23L182.8 109.83L183.8 110.43L184.8 111.03L185.8 111.63L186.8 112.23L187.8 112.83L188.8 113.43L189.8 114.03L190.8 114.63L191.8 115.24L192.8 115.84L193.8 116.44L194.8 117.04L195.8 117.64L196.8 118.25L197.8 118.87L198.8 119.5L199.8 120.14L200.8 120.78L201.8 121.42L202.8 122.06L203.8 122.7L204.8 123.34L205.8 123.98L206.8 124.62L207.8 125.26L208.8 125.9L209.8 126.54L210.8 127.18L211.8 127.82L212.8 128.46L213.8 129.1L214.8 129.74L215.8 130.36L216.8 130.98L217.8 131.59L218.8 132.2L219.8 132.81L220.8 133.42L221.8 134.03L222.8 134.64L223.8 135.25L224.8 135.86L225.8 136.47L226.8 137.09L227.8 137.7L228.8 138.31L229.8 138.92L230.8 139.53L231.8 140.14L232.8 140.75L233.8 141.36L234.8 141.96L235.8 142.55L236.8 143.12L237.8 143.69L238.8 144.24L239.8 144.8L240.8 145.36L241.8 145.92L242.8 146.48L243.8 147.04L244.8 147.6L245.8 148.16L246.8 148.72L247.8 149.27L248.8 149.83L249.8 150.38L250.8 150.94L251.8 151.49L252.8 152.04L253.8 152.59L254.8 153.15L255.8 153.7L256.8 154.25L257.8 154.81L258.8 155.36L259.8 155.91L260.8 156.46L261.8 157.02L262.8 157.57L263.8 158.12L264.8 158.67L265.8 159.22L266.8 159.78L267.8 160.33L268.8 160.88L269.8 161.43L270.8 161.98L271.8 162.54L272.8 163.09L273.8 163.64L274.8 164.19L275.8 164.74L276.8 165.3L277.8 165.85L278.8 166.4L279.8 166.95L280.8 167.5L281.8 168.05L282.8 168.6L283.8 169.14L284.8 169.68L285.8 170.23L286.8 170.77L287.8 171.31L288.8 171.86L289.8 172.4L290.8 172.94L291.8 173.49L292.8 174.03L293.8 174.57L294.8 175.12L295.8 175.66L296.8 176.2L297.8 176.75L298.8 177.29L299.8 177.83L300.8 178.38L301.8 178.92L302.8 179.46L303.8 180.01L304.8 180.55L305.8 181.09L306.8 181.64L307.8 182.18L308.8 182.72L309.8 183.26L310.8 183.8L311.8 184.35L312.8 184.89L313.8 185.43L314.8 185.97L315.8 186.51L316.8 187.06L317.8 187.6L318.8 188.14L319.8 188.68L320.8 189.22L321.8 189.77L322.8 190.31L323.8 190.85L324.8 191.39L325.8 191.93L326.8 192.47L327.8 192.98L328.8 193.49L329.8 193.98L330.8 194.47L331.8 194.96L332.8 195.45L333.8 195.95L334.8 196.44L335.8 196.93L336.8 197.42L337.8 197.91L338.8 198.4L339.8 198.89L340.8 199.39L341.05 199.88L341.3 200.01L341.55 200.13L341.8 200.25L342.05 200.37L342.3 200.49L342.55 200.6L342.8 200.76L343.05 200.87L343.3 201.01L343.55 201.11L343.8 201.26L344.05 201.41L344.3 201.54L344.55 201.66L344.8 201.78L345.05 201.92L345.3 202.1L345.55 202.21L345.8 202.38L346.05 202.51L346.3 202.69L346.55 202.83L346.8 202.93L347.05 203.04L347.3 203.22L347.55 203.38L347.8 203.55L348.05 203.72L348.3 203.88L348.55 203.92L348.8 204.17L349.05 204.32L349.3 204.47L349.55 204.58L349.8 204.69L350.05 204.92L350.3 205.06L350.55 205.19L350.8 205.37L351.05 205.43L351.3 205.54L351.55 205.76L351.8 205.95L352.05 206L352.3 206.24L352.55 206.42L352.8 206.44L353.05 206.66L353.3 206.82L353.55 206.93L353.8 207.02L354.05 207.18L354.3 207.43L354.55 207.58L354.8 207.66L355.05 207.73L355.3 208.03L355.55 208.17L355.8 208.2L356.05 208.42L356.3 208.64L356.55 208.78L356.8 208.84L357.05 208.97L357.3 209.13L357.55 209.17L357.8 209.31L358.05 209.44L358.3 209.71L358.55 209.75L358.8 209.94L359.05 210.03L359.3 210.19L359.55 210.22L359.8 210.32L360.05 210.72L360.3 210.67L360.55 210.73L360.8 211.01L361.05 211.19L361.3 211.13L361.55 211.4L361.8 211.45L362.05 211.64L362.3 211.61L362.55 211.74L362.8 212.19L363.05 212.28L363.3 212.28L363.55 212.44L363.8 212.47L364.05 212.78L364.3 212.79L364.55 213.11L364.8 213.17L365.05 213.33L365.3 213.51L365.55 213.38L365.8 213.43L366.05 213.62L366.3 213.75L366.55 213.84L366.8 213.96L367.05 214.29L367.3 214.54L367.55 214.51L367.8 214.84L368.05 214.96L368.3 214.74L368.55 215.09L368.8 215.14L369.05 215.16L369.3 215.64L369.55 215.47L369.8 215.74L370.05 215.9L370.3 216.17L370.55 216.18L370.8 216.19L371.05 216.34L371.3 216.34L371.55 216.84L371.8 216.99L372.05 216.76L372.3 216.81L372.55 217.04L372.8 217.21L373.05 217.61L373.3 217.74L373.55 217.84L373.8 217.58L374.05 218.07L374.3 218.17L374.55 218.26L374.8 218.57L375.05 218.22L375.3 218.4L375.55 218.84L375.8 219.07L376.05 219.06L376.3 218.99L376.55 219.28L376.8 219.49L377.05 219.27L377.3 219.52L377.55 219.61L377.8 219.67L378.05 219.99L378.3 219.95L378.55 220.12L378.8 220.19L379.05 220.62L379.3 220.37L379.55 220.91L379.8 220.73L380.05 220.77L380.3 221.42L380.55 221.13L380.8 221.68L381.05 221.78L381.3 221.92L381.55 221.6L381.8 221.91L382.05 221.83L382.3 222.47L382.55 222.55L382.8 222.54L383.05 222.56L383.3 222.62L383.55 223.06L383.8 222.97L384.05 223.19L384.3 223.01L384.55 223.19L384.8 223.21L385.05 223.77L385.3 223.79L385.55 223.65L385.8 224.26L386.05 223.99L386.3 224.22L386.55 224.17L386.8 224.38L387.05 224.9L387.3 224.68L387.55 224.69L387.8 225.04L388.05 225.05L388.3 225.59L388.55 225.16L388.8 225.89L389.05 225.36L389.3 226.08L389.55 226.04L389.8 225.83L390.05 226.14L390.3 226.12L390.55 226.21L390.8 226.28L391.05 226.52L391.3 227.1L391.55 227.22L391.8 227.29L392.05 226.78L392.3 227.04L392.55 227.61L392.8 227.09L393.05 227.72L393.3 227.5L393.55 228.14L393.8 227.51L394.05 228.24L394.3 227.99L394.55 227.95L394.8 227.95L395.05 228.73L395.3 228.6L395.55 228.44L395.8 228.75L396.05 229.26L396.3 228.81L396.55 229.21L396.8 228.97L397.05 229.12L397.3 229.72L397.55 229.79L397.8 229.47L398.05 229.49L398.3 229.61L398.55 230.17L398.8 230.18L399.05 230.11L399.3 230.16L399.55 230.63L399.8 230.83L400.05 231.03L400.3 230.95L400.55 230.73L400.8 230.72L401.05 231.42L401.3 231.24L401.55 231.63L401.8 231.14L402.05 231.93L402.3 231.6L402.55 232.16L402.8 232.29L403.05 232.05L403.3 231.71L403.55 232.64L403.8 232.34L404.05 232.81L404.3 232.35L404.55 232.37L404.8 233.08L405.05 232.74L405.3 232.65L405.55 232.94L405.8 233.26L406.05 232.79L406.3 233.39L406.55 233.42L406.8 233.58L407.05 233.3L407.3 233.98L407.55 234.18L407.8 234.33L408.05 233.89L408.3 234.38L408.55 234.15L408.8 234.62L409.05 234.03L409.3 234.95L409.55 235.13L409.8 234.77L410.05 234.89L410.3 235L410.55 235.11L410.8 234.68L411.05 235.76L411.3 235.09L411.55 235.14L411.8 235.16L412.05 235.41L412.3 236.11L412.55 235.38L412.8 235.55L413.05 236.3L413.3 235.87L413.55 235.78L413.8 236.52L414.05 236.6L414.3 236.66L414.55 236.98L414.8 236.44L415.05 237.4L415.3 237.36L415.55 236.75L415.8 236.97L416.05 237.51L416.3 237.65L416.55 237.53L416.8 237.49L417.05 237.94L417.3 237.77L417.55 238.42L417.8 238.86L418.05 238.18L418.3 238.8L418.55 239.13L418.8 238.6L419.05 239.49L419.3 239.76L419.55 239.26L419.8 239.43L420.05 240.05L420.3 239.82L420.55 239.8L420.8 240.57L421.05 240.51L421.3 240.13L421.55 240.15L421.8 240.39L422.05 240.65L422.3 241.43L422.55 241.36L422.8 241.62L423.05 241.64L423.3 241.81L423.55 240.98L423.8 241.68L424.05 242.35L424.3 242.46L424.55 241.75L424.8 242.1L425.05 242.49L425.3 242.3L425.55 242.64L425.8 242.2L426.05 242.8L426.3 243.04L426.55 242.58L426.8 242.88L427.05 244.09L427.3 244.02L427.55 244.4L427.8 244.18L428.05 244.59L428.3 244.87L428.55 245.07L428.8 244.16L429.05 245.13L429.3 244.84L429.55 245.57L429.8 245.23L430.05 245.78L430.3 246.48L430.55 246.27L430.8 245.97L431.05 246.52L431.3 246.6L431.55 247.49L431.8 246.79L432.05 247.01L432.3 247.66L432.55 247.15L432.8 247.98L433.05 248.67L433.3 248.26L433.55 248.12L433.8 248.58L434.05 248.87L434.3 248.53L434.55 248.69L434.8 248.89L435.05 249.31L435.3 249.65L435.55 249.68L435.8 249.8L436.05 249.77L436.3 250.58L436.55 251.15L436.8 251L437.05 251.1L437.3 251.34L437.55 250.83L437.8 251.68L438.05 251.45L438.3 251.67L438.55 251.85L438.8 251.74L439.05 251.61L439.3 251.59L439.55 251.64L439.8 252.15L440.05 252.04L440.3 252.42L440.55 251.66L440.8 252.24L441.05 253.07L441.3 252.23L441.55 252.78L441.8 252.77L442.05 252.54L442.3 253.67L442.55 252.72L442.8 253.51L443.05 252.67L443.3 252.62L443.55 253.91L443.8 253.34L444.05 252.85L444.3 253.42L444.55 253.58L444.8 254.12L445.05 253.24L445.3 253.5L445.55 254.71L445.8 254.45L446.05 253.63L446.3 253.99L446.55 254.1L446.8 254.68L447.05 254.67L447.3 255.12L447.55 255.16L447.8 254.76L448.05 255.19L448.3 255.29L448.55 255.4L448.8 255.04L449.05 255.62L449.3 255.6L449.55 256.04L449.8 254.88L450.05 256.18L450.3 254.91L450.55 256.26L450.8 256.09L451.05 256.07L451.3 256.96L451.55 256.46L451.8 256.34L452.05 257.08L452.3 257.36L452.55 257.06L452.8 256.83L453.05 257.09L453.3 257.23L453.55 257.81L453.8 257.23L454.05 257.53L454.3 257.95L454.55 257.8L454.8 257.83L455.05 258.75L455.3 258.99L455.55 258.54L455.8 258.59L456.05 258.28L456.3 258.62L456.55 258.49L456.8 259.36L457.05 259.51L457.3 258.8L457.55 260.36L457.8 259.48L458.05 260.51L458.3 260.64L458.55 260.99L458.8 259.82L459.05 260.34L459.3 261.32L459.55 259.89L459.8 260.09L460.05 261.14L460.3 261.16L460.55 262.04L460.8 261.93L461.05 261.65L461.3 262.62L461.55 261.92L461.8 262.08L462.05 262.53L462.3 262.19L462.55 262.31L462.8 262.92L463.05 262.66L463.3 263.94L463.55 263.66L463.8 263.6L464.05 263.04L464.3 263.76L464.55 264.03L464.8 264.54L465.05 264.79L465.3 265.57L465.55 265.96L465.8 265.31L466.05 265.45L466.3 266.01L466.55 266.92L466.8 265.94L467.05 266.51L467.3 267.27L467.55 266.3L467.8 266.8L468.05 268.25L468.3 268.2L468.55 267.84L468.8 267.31L469.05 269.01L469.3 268.85L469.55 269.32L469.8 269.87L470.05 269.9L470.3 269.24L470.55 268.96L470.8 269.44L471.05 270.09L471.3 270.29L471.55 269.91L471.8 270.12L472.05 271.19L472.3 271.34L472.55 271.07L472.8 272.5L473.05 272.03L473.3 271.09L473.55 271.98L473.8 272.89L474.05 272.16L474.3 273.08L474.55 271.95L474.8 272.71L475.05 273.91L475.3 273.61L475.55 273.94L475.8 273.23L476.05 273.98L476.3 274.27L476.55 273.9L476.8 274.81L477.05 274.77L477.3 275.83L477.55 275.21L477.8 275.08L478.05 274.71L478.3 274.96L478.55 276.29L478.8 275.23L479.05 275.39L479.3 275.71L479.55 276.56L479.8 277.31L480.05 277.09L480.3 277.64L480.55 276.4L480.8 276.49L481.05 278.11L481.3 277.43L481.55 278.35L481.8 277.84L482.05 277.66L482.3 277.99L482.55 277.83L482.8 279.51L483.05 279.05L483.3 278.73L483.55 279.05L483.8 279.06L484.05 278.56L484.3 280.25L484.55 279.78L484.8 280.61L485.05 279.73L485.3 280.18L485.55 279.58L485.8 279.3L486.05 281.09L486.3 281.06L486.55 280.14L486.8 281.36L487.05 281.31L487.3 280.44L487.55 281.12L487.8 281.9L488.05 281.13L488.3 282.1L488.55 280.86L488.8 281.25L489.05 281.98L489.3 281.14L489.55 281.42L489.8 282.6L490.05 281.97L490.3 282.66L490.55 281.72L490.8 281.7L491.05 282.16L491.3 281.93L491.55 283.53L491.8 282.34L492.05 282.96L492.3 282.2L492.55 283.09L492.8 282.9L493.05 283.02L493.3 282.53L493.55 282.78" fill="none" stroke="#000" stroke-width="2.8" stroke-linejoin="round"/>
<path d="M393.3 38.25L471.7 38.25" fill="none" stroke="#000" stroke-width="2.8"/>
<path d="M393.3 80.4L471.7 80.4" fill="none" stroke="#000" stroke-width="1.4" stroke-dasharray="8 2.5 1.65 2.5"/>
<path d="M393.3 122.1L471.7 122.1" fill="none" stroke="#ff0000" stroke-width="1.6" stroke-dasharray="2.9 3.77"/>
<path d="M393.3 163.9L471.7 163.9" fill="none" stroke="#000" stroke-width="1.6" stroke-dasharray="1.2 2.13"/>
<text x="382.3" y="47.6" font-size="26" font-style="italic" text-anchor="end">Q</text>
<text x="380.6" y="90.1" font-size="26" font-style="italic" text-anchor="end">λ<tspan font-size="17" font-style="normal" dy="-9.4">2</tspan><tspan dy="9.4">K</tspan></text>
<text font-size="26"><tspan x="337.7" y="133.8" font-style="italic">t</tspan><tspan x="345.5" y="126.9" font-size="21">−</tspan><tspan x="357.4" y="124.1" font-size="17">1</tspan><tspan x="366.9" y="127.8" font-size="22">/</tspan><tspan x="373.9" y="124.2" font-size="17">3</tspan></text>
<text x="381.6" y="171.6" font-size="26" font-style="italic" text-anchor="end">Z</text>
<path d="M645.6 284.3L646.6 283.63L647.6 282.96L648.6 282.3L649.6 281.63L650.6 280.96L651.6 280.29L652.6 279.62L653.6 278.95L654.6 278.29L655.6 277.62L656.6 276.95L657.6 276.28L658.6 275.61L659.6 274.94L660.6 274.28L661.6 273.61L662.6 272.94L663.6 272.27L664.6 271.6L665.6 270.94L666.6 270.27L667.6 269.61L668.6 268.95L669.6 268.29L670.6 267.63L671.6 266.97L672.6 266.31L673.6 265.65L674.6 264.99L675.6 264.33L676.6 263.67L677.6 263.01L678.6 262.35L679.6 261.69L680.6 261.03L681.6 260.37L682.6 259.71L683.6 259.05L684.6 258.39L685.6 257.73L686.6 257.07L687.6 256.41L688.6 255.75L689.6 255.09L690.6 254.43L691.6 253.78L692.6 253.14L693.6 252.51L694.6 251.88L695.6 251.26L696.6 250.63L697.6 250.01L698.6 249.38L699.6 248.75L700.6 248.13L701.6 247.5L702.6 246.88L703.6 246.25L704.6 245.62L705.6 245L706.6 244.37L707.6 243.75L708.6 243.12L709.6 242.49L710.6 241.87L711.6 241.24L712.6 240.62L713.6 239.99L714.6 239.36L715.6 238.74L716.6 238.12L717.6 237.51L718.6 236.91L719.6 236.32L720.6 235.72L721.6 235.13L722.6 234.54L723.6 233.95L724.6 233.35L725.6 232.76L726.6 232.17L727.6 231.57L728.6 230.98L729.6 230.39L730.6 229.8L731.6 229.2L732.6 228.61L733.6 228.02L734.6 227.42L735.6 226.83L736.6 226.24L737.6 225.65L738.6 225.05L739.6 224.46L740.6 223.87L741.6 223.26L742.6 222.6L743.6 221.9L744.6 221.16L745.6 220.42L746.6 219.67L747.6 218.93L748.6 218.18L749.6 217.44L750.6 216.69L751.6 215.95L752.6 215.2L753.6 214.45L754.6 213.71L755.6 212.96L756.6 212.23L757.6 211.53L758.6 210.89L759.6 210.28L760.6 209.7L761.6 209.11L762.6 208.52L763.6 207.93L764.6 207.34L765.6 206.76L766.6 206.17L767.6 205.58L768.6 204.99L769.6 204.41L770.6 203.82L771.6 203.23L772.6 202.64L773.6 202.06L774.6 201.47L775.6 200.88L776.6 200.29L777.6 199.7L778.6 199.12L779.6 198.53L780.6 197.97L781.6 197.42L782.6 196.89L783.6 196.36L784.6 195.83L785.6 195.31L786.6 194.78L787.6 194.25L788.6 193.72L789.6 193.19L790.6 192.66L791.6 192.14L792.6 191.61L793.6 191.08L794.6 190.55L795.6 190.02L796.6 189.47L797.6 188.91L798.6 188.35L799.6 187.78L800.6 187.21L801.6 186.64L802.6 186.07L803.6 185.5L804.6 184.93L805.6 184.36L806.6 183.79L807.6 183.23L808.6 182.66L809.6 182.09L810.6 181.52L811.6 180.95L812.6 180.38L813.6 179.81L814.6 179.24L815.6 178.67L816.6 178.1L817.6 177.53L818.6 176.96L819.6 176.4L820.6 175.83L820.85 175.26L821.1 175.11L821.35 174.96L821.6 174.82L821.85 174.67L822.1 174.53L822.35 174.38L822.6 174.25L822.85 174.1L823.1 173.94L823.35 173.82L823.6 173.65L823.85 173.51L824.1 173.39L824.35 173.22L824.6 173.08L824.85 172.96L825.1 172.81L825.35 172.63L825.6 172.5L825.85 172.38L826.1 172.21L826.35 172.11L826.6 171.91L826.85 171.82L827.1 171.64L827.35 171.47L827.6 171.35L827.85 171.18L828.1 171.08L828.35 170.9L828.6 170.81L828.85 170.64L829.1 170.47L829.35 170.31L829.6 170.21L829.85 170.02L830.1 169.95L830.35 169.72L830.6 169.62L830.85 169.48L831.1 169.3L831.35 169.21L831.6 169.02L831.85 168.91L832.1 168.76L832.35 168.58L832.6 168.44L832.85 168.26L833.1 168.12L833.35 168.07L833.6 167.85L833.85 167.76L834.1 167.53L834.35 167.45L834.6 167.28L834.85 167.16L835.1 166.98L835.35 166.79L835.6 166.69L835.85 166.53L836.1 166.37L836.35 166.33L836.6 166.1L836.85 165.98L837.1 165.93L837.35 165.76L837.6 165.64L837.85 165.49L838.1 165.2L838.35 165.08L838.6 164.89L838.85 164.88L839.1 164.73L839.35 164.52L839.6 164.39L839.85 164.3L840.1 164.16L840.35 163.92L840.6 163.91L840.85 163.65L841.1 163.57L841.35 163.32L841.6 163.16L841.85 163.2L842.1 163.02L842.35 162.87L842.6 162.56L842.85 162.41L843.1 162.3L843.35 162.16L843.6 162.04L843.85 161.92L844.1 161.68L844.35 161.61L844.6 161.55L844.85 161.28L845.1 161.32L845.35 161.11L845.6 161L845.85 160.73L846.1 160.65L846.35 160.58L846.6 160.34L846.85 160.1L847.1 160.22L847.35 160.07L847.6 159.79L847.85 159.58L848.1 159.7L848.35 159.49L848.6 159.18L848.85 159.11L849.1 158.94L849.35 159.03L849.6 158.71L849.85 158.81L850.1 158.63L850.35 158.27L850.6 158.35L850.85 158.12L851.1 158.11L851.35 158L851.6 157.68L851.85 157.49L852.1 157.66L852.35 157.34L852.6 157.39L852.85 157.18L853.1 157.07L853.35 156.97L853.6 156.76L853.85 156.57L854.1 156.29L854.35 156.4L854.6 156.17L854.85 156.07L855.1 156.1L855.35 155.66L855.6 155.78L855.85 155.36L856.1 155.49L856.35 155.41L856.6 155.06L856.85 155.04L857.1 155.08L857.35 154.82L857.6 154.65L857.85 154.4L858.1 154.18L858.35 154.18L858.6 154.07L858.85 153.85L859.1 153.77L859.35 153.56L859.6 153.68L859.85 153.53L860.1 153.21L860.35 153.08L860.6 153.07L860.85 152.91L861.1 153L861.35 152.61L861.6 152.45L861.85 152.59L862.1 152.12L862.35 152.18L862.6 151.94L862.85 152.04L863.1 151.78L863.35 151.76L863.6 151.34L863.85 151.45L864.1 151.29L864.35 151.09L864.6 151.11L864.85 151.01L865.1 150.53L865.35 150.48L865.6 150.39L865.85 150.18L866.1 149.97L866.35 149.95L866.6 149.78L866.85 149.91L867.1 149.65L867.35 149.34L867.6 149.32L867.85 149.27L868.1 149.08L868.35 148.84L868.6 148.66L868.85 148.5L869.1 148.9L869.35 148.64L869.6 148.14L869.85 148.36L870.1 148.38L870.35 148.02L870.6 147.63L870.85 147.71L871.1 147.55L871.35 147.29L871.6 147.36L871.85 146.92L872.1 147.32L872.35 147.04L872.6 146.9L872.85 146.95L873.1 146.66L873.35 146.3L873.6 146.17L873.85 145.98L874.1 145.79L874.35 146.11L874.6 146.02L874.85 145.57L875.1 145.37L875.35 145.53L875.6 145.53L875.85 145.45L876.1 144.86L876.35 145.12L876.6 145.02L876.85 144.84L877.1 144.45L877.35 144.24L877.6 144.52L877.85 144.07L878.1 143.97L878.35 143.97L878.6 143.72L878.85 143.9L879.1 143.39L879.35 143.13L879.6 143.35L879.85 143.26L880.1 143.27L880.35 143.07L880.6 143.07L880.85 142.98L881.1 142.55L881.35 142.43L881.6 142.07L881.85 142.04L882.1 142.11L882.35 141.63L882.6 141.93L882.85 141.44L883.1 141.51L883.35 141.75L883.6 141.01L883.85 140.84L884.1 141L884.35 140.7L884.6 140.95L884.85 140.31L885.1 140.79L885.35 140.67L885.6 140.5L885.85 140.11L886.1 139.88L886.35 140.03L886.6 139.8L886.85 139.6L887.1 139.42L887.35 139.37L887.6 139.41L887.85 139.41L888.1 139.34L888.35 138.65L888.6 138.63L888.85 138.61L889.1 138.58L889.35 138.29L889.6 138.05L889.85 137.83L890.1 137.89L890.35 137.87L890.6 138.14L890.85 137.97L891.1 137.8L891.35 137.76L891.6 137.62L891.85 137.22L892.1 137.23L892.35 136.5L892.6 136.85L892.85 136.66L893.1 136.26L893.35 136.34L893.6 136.51L893.85 135.98L894.1 135.98L894.35 135.55L894.6 135.44L894.85 135.74L895.1 134.88L895.35 134.87L895.6 135.14L895.85 134.8L896.1 134.35L896.35 134.69L896.6 134.3L896.85 134.33L897.1 134.05L897.35 134L897.6 133.88L897.85 133.59L898.1 133.21L898.35 133.12L898.6 133.59L898.85 133.15L899.1 132.62L899.35 133.13L899.6 132.45L899.85 132.17L900.1 132.41L900.35 132.02L900.6 132.08L900.85 132L901.1 131.56L901.35 131.72L901.6 131.16L901.85 131.38L902.1 131.3L902.35 130.7L902.6 130.85L902.85 130.4L903.1 130.59L903.35 130.84L903.6 130.4L903.85 130.41L904.1 130.31L904.35 129.56L904.6 130.24L904.85 129.84L905.1 129.11L905.35 129.66L905.6 129.1L905.85 128.74L906.1 129.35L906.35 128.84L906.6 128.9L906.85 128.15L907.1 128.63L907.35 127.8L907.6 127.84L907.85 127.84L908.1 127.36L908.35 127.8L908.6 127.29L908.85 127.25L909.1 127.53L909.35 127.12L909.6 127.46L909.85 127.06L910.1 127.19L910.35 126.76L910.6 126.99L910.85 126.81L911.1 125.98L911.35 126.44L911.6 125.9L911.85 126.21L912.1 126L912.35 126.02L912.6 125.17L912.85 125.31L913.1 125.56L913.35 125.65L913.6 125.29L913.85 124.46L914.1 124.92L914.35 124.26L914.6 124.61L914.85 124.75L915.1 123.9L915.35 124.63L915.6 124.24L915.85 123.67L916.1 123.48L916.35 123.62L916.6 123.91L916.85 123.51L917.1 122.88L917.35 122.66L917.6 122.63L917.85 123.25L918.1 122.46L918.35 122.73L918.6 122.32L918.85 122.63L919.1 122.16L919.35 121.78L919.6 122.46L919.85 121.96L920.1 122L920.35 122.01L920.6 122.04L920.85 120.87L921.1 121.11L921.35 120.77L921.6 121.04L921.85 121.33L922.1 121.13L922.35 120.14L922.6 120.18L922.85 120.77L923.1 120.49L923.35 120.04L923.6 120.01L923.85 119.52L924.1 120.18L924.35 119.53L924.6 119.96L924.85 119.54L925.1 118.79L925.35 118.96L925.6 118.7L925.85 119.37L926.1 118.88L926.35 118.11L926.6 118.14L926.85 118.23L927.1 118.23L927.35 118.24L927.6 117.88L927.85 117.72L928.1 117.17L928.35 117.73L928.6 117.31L928.85 116.8L929.1 117.2L929.35 117.71L929.6 116.44L929.85 116.44L930.1 116.95L930.35 116.33L930.6 116.2L930.85 116.35L931.1 115.93L931.35 116.18L931.6 116L931.85 116.41L932.1 116.32L932.35 115L932.6 115.53L932.85 115.67L933.1 115.67L933.35 115.41L933.6 115.11L933.85 114.98L934.1 114.51L934.35 114.28L934.6 114.8L934.85 114.77L935.1 114.73L935.35 114.28L935.6 113.66L935.85 114.12L936.1 113.97L936.35 113.54L936.6 113.58L936.85 113.08L937.1 113.21L937.35 112.89L937.6 112.31L937.85 112.55L938.1 112.4L938.35 113.14L938.6 112.35L938.85 112.07L939.1 111.78L939.35 111.64L939.6 111.66L939.85 111.25L940.1 110.95L940.35 111.97L940.6 111.28L940.85 111.15L941.1 111.18L941.35 110.7L941.6 110.39L941.85 110.12L942.1 110.31L942.35 110.19L942.6 110.63L942.85 110.26L943.1 110.66L943.35 109.72L943.6 110.38L943.85 109.79L944.1 108.98L944.35 108.99L944.6 109.42L944.85 109.85L945.1 108.87L945.35 109.34L945.6 108.75L945.85 109.26L946.1 108.05L946.35 108.55L946.6 109.05L946.85 108.09L947.1 107.99L947.35 107.59L947.6 107.73L947.85 107.8L948.1 108.36L948.35 107.61L948.6 107.8L948.85 107.46L949.1 107.97L949.35 108.28L949.6 107.91L949.85 107.2L950.1 107.91L950.35 108.18L950.6 107.6L950.85 106.78L951.1 107.78L951.35 107.81L951.6 106.97L951.85 106.61L952.1 106.62L952.35 107.07L952.6 107.51L952.85 107.1L953.1 107.46L953.35 106.35L953.6 106.45L953.85 107.02L954.1 106.81L954.35 106.38L954.6 106.73L954.85 106.16L955.1 105.68L955.35 106.15L955.6 105.53L955.85 106.35L956.1 105.84L956.35 106.02L956.6 106.12L956.85 105.54L957.1 105.79L957.35 105.04L957.6 106.37L957.85 105.76L958.1 106.35L958.35 104.86L958.6 105.65L958.85 105.76L959.1 105.09L959.35 104.66L959.6 104.7L959.85 104.61L960.1 105.52L960.35 104.4L960.6 105.46L960.85 104.78L961.1 104.88L961.35 104.88L961.6 104.74L961.85 104.82L962.1 104.61L962.35 104.07L962.6 104.6L962.85 103.72L963.1 104.3L963.35 104.24L963.6 104.12L963.85 103.23L964.1 103.82L964.35 103.99L964.6 103L964.85 102.56L965.1 102.8L965.35 103.32L965.6 101.86L965.85 101.5L966.1 102.1L966.35 102.24L966.6 102.27L966.85 101.45L967.1 102.32L967.35 100.92L967.6 101.63L967.85 100.38L968.1 100.12L968.35 100.14L968.6 99.86L968.85 100.43L969.1 100.36L969.35 99.59L969.6 100.69L969.85 99.58L970.1 99.06L970.35 98.95L970.6 99.73L970.85 99.89L971.1 98.46L971.35 98.08L971.6 99.18L971.85 98.12L972.1 99.21L972.35 98.24L972.6 98.32L972.85 97.67L973.1 98.28L973.35 97.55L973.6 97.16L973.85 97.99L974.1 96.46L974.35 97.37L974.6 96.06L974.85 96.89L975.1 96.3L975.35 96.93L975.6 95.37L975.85 96.07L976.1 95.63L976.35 96.34L976.6 96.22L976.85 95.49L977.1 94.62L977.35 94.49L977.6 94.34L977.85 94.46L978.1 93.94L978.35 93.71L978.6 94.52L978.85 94.14L979.1 93.36L979.35 94.42L979.6 92.87L979.85 93.32L980.1 92.42L980.35 93.5L980.6 93.34L980.85 92.1L981.1 92.8L981.35 92.77L981.6 91.65L981.85 91.57L982.1 91.71L982.35 92.31L982.6 90.86L982.85 91.66L983.1 91.4L983.35 91.03L983.6 91.15L983.85 91.59L984.1 90.27L984.35 91.4L984.6 90.36L984.85 91.03L985.1 91.09L985.35 89.75L985.6 90.91L985.85 91.06L986.1 89.68L986.35 89.08L986.6 89.15L986.85 90.66L987.1 88.78L987.35 90.36L987.6 88.85L987.85 89.85L988.1 88.57L988.35 88.61L988.6 89.47L988.85 88.27L989.1 88.65L989.35 89.64L989.6 89.17L989.85 89.39L990.1 89.48L990.35 87.6L990.6 87.89L990.85 88.86L991.1 88.57L991.35 87.24L991.6 88.03L991.85 87.42L992.1 87.71L992.35 86.99L992.6 86.74L992.85 88.5L993.1 87.11L993.35 88.1L993.6 86.54L993.85 87.15L994.1 86.36L994.35 86.82L994.6 86.23L994.85 87.1L995.1 85.93L995.35 86.95L995.6 86.37L995.85 85.49L996.1 85.82L996.35 85.97L996.6 86.66L996.85 85.41L997.1 85.01L997.35 86.36L997.6 86.06L997.85 85.63L998.1 84.58L998.35 84.26L998.6 84.3L998.85 83.77L999.1 83.58L999.35 84.37L999.6 84.04L999.85 84.2L1000.1 83.68L1000.35 82.84L1000.6 84.06L1000.85 83.85L1001.1 83.5L1001.35 83.37L1001.6 83.52L1001.85 83.97L1002.1 83.62L1002.35 83.17L1002.6 82.4L1002.85 82.1L1003.1 82.17L1003.35 83.14L1003.6 81.83L1003.85 81.69L1004.1 81.61L1004.35 80.94L1004.6 82.51L1004.85 80.39L1005.1 81.46L1005.35 81.96L1005.6 80.47L1005.85 81.05L1006.1 80.42L1006.35 79.99L1006.6 79.75L1006.85 79.43L1007.1 80.7L1007.35 80.4L1007.6 80.47L1007.85 78.57L1008.1 79.66L1008.35 78.72L1008.6 79.16L1008.85 78.77L1009.1 78.1L1009.35 79.21L1009.6 77.06L1009.85 78.35L1010.1 78.36L1010.35 77.47L1010.6 77.43L1010.85 78.03L1011.1 76.31L1011.35 76.89L1011.6 76.92L1011.85 75.98L1012.1 76.45L1012.35 75.61L1012.6 75.67L1012.85 75.64L1013.1 75.56L1013.35 74.65L1013.6 75.06L1013.85 74.68L1014.1 73.83L1014.35 74.4L1014.6 73.5L1014.85 74.58L1015.1 73.49L1015.35 73.78L1015.6 73.16L1015.85 72.86L1016.1 72.13L1016.35 71.75L1016.6 73.11L1016.85 72.09L1017.1 71.86L1017.35 71.65L1017.6 72L1017.85 70.64L1018.1 70.28L1018.35 71.36L1018.6 70.42L1018.85 70.56L1019.1 70.72L1019.35 70.63L1019.6 70.36L1019.85 68.49L1020.1 68.95L1020.35 69.63L1020.6 69.38L1020.85 67.77L1021.1 67.62L1021.35 67.6L1021.6 67.09L1021.85 67.38L1022.1 68.07L1022.35 67.3L1022.6 66.96L1022.85 66.03L1023.1 66.46L1023.35 67.48L1023.6 66.7L1023.85 66.03L1024.1 65.92L1024.35 66.4L1024.6 66.15L1024.85 64.77L1025.1 65.67L1025.35 64.89L1025.6 65.04L1025.85 64.31L1026.1 64.42L1026.35 64.2L1026.6 64.13L1026.85 63.24L1027.1 63.45L1027.35 64.03L1027.6 62.85L1027.85 62.93L1028.1 63.86L1028.35 62.81L1028.6 62.75L1028.85 62.43L1029.1 63.46L1029.35 61.82L1029.6 62.76L1029.85 63.05L1030.1 61.59L1030.35 61.89L1030.6 62.49L1030.85 62L1031.1 61.38L1031.35 60.61L1031.6 61.29L1031.85 61.02L1032.1 61.6L1032.35 60.67L1032.6 60.79L1032.85 61.17L1033.1 61.4L1033.35 60.39L1033.6 60.36L1033.85 60.66L1034.1 61.26L1034.35 59.7L1034.6 61.16L1034.85 60.55L1035.1 59.78L1035.35 60.28L1035.6 59.51L1035.85 58.9L1036.1 60.18L1036.35 59.33L1036.6 59.53L1036.85 59.38L1037.1 60.1L1037.35 59.72L1037.6 58.17L1037.85 59.22L1038.1 58.88L1038.35 58.81L1038.6 59.49L1038.85 58.56L1039.1 58.53" fill="none" stroke="#0000ff" stroke-width="2.8" stroke-linejoin="round"/>
<path d="M644.7 275L1039 61.09" fill="none" stroke="#00ffff" stroke-width="1.8" stroke-dasharray="2.9 3.77"/>
<path d="M676 231.6L676.5 231.36L677 231.12L677.5 230.88L678 230.63L678.5 230.39L679 230.15L679.5 229.91L680 229.67L680.5 229.43L681 229.19L681.5 228.94L682 228.7L682.5 228.46L683 228.22L683.5 227.98L684 227.74L684.5 227.49L685 227.25L685.5 227.01L686 226.77L686.5 226.53L687 226.29L687.5 226.05L688 225.8L688.5 225.56L689 225.32L689.5 225.07L690 224.83L690.5 224.57L691 224.32L691.5 224.05L692 223.79L692.5 223.51L693 223.24L693.5 222.97L694 222.69L694.5 222.42L695 222.15L695.5 221.87L696 221.6L696.5 221.33L697 221.05L697.5 220.78L698 220.51L698.5 220.23L699 219.96L699.5 219.68L700 219.41L700.5 219.14L701 218.86L701.5 218.59L702 218.32L702.5 218.04L703 217.77L703.5 217.5L704 217.22L704.5 216.95L705 216.67L705.5 216.4L706 216.13L706.5 215.85L707 215.58L707.5 215.31L708 215.03L708.5 214.76L709 214.49L709.5 214.21L710 213.94L710.5 213.66L711 213.39L711.5 213.12L712 212.84L712.5 212.57L713 212.3L713.5 212.02L714 211.75L714.5 211.48L715 211.21L715.5 210.95L716 210.69L716.5 210.45L717 210.2L717.5 209.97L718 209.74L718.5 209.52L719 209.29L719.5 209.07L720 208.84L720.5 208.62L721 208.39L721.5 208.17L722 207.94L722.5 207.72L723 207.49L723.5 207.27L724 207.04L724.5 206.82L725 206.59L725.5 206.36L726 206.14L726.5 205.91L727 205.69L727.5 205.46L728 205.24L728.5 205.01L729 204.79L729.5 204.56L730 204.34L730.5 204.3L731 204.09L731.5 203.3L732 203.31L732.5 202.93L733 203.36L733.5 203.09L734 202.26L734.5 202.36L735 202.11L735.5 201.46L736 201.51L736.5 201.56L737 201.22L737.5 200.66L738 200.8L738.5 200.19L739 200.16L739.5 199.87L740 200.45L740.5 199.96L741 199.86L741.5 199.51L742 198.99L742.5 199.2L743 198.74L743.5 198.47L744 197.88L744.5 197.49L745 197.44L745.5 197.25L746 196.95L746.5 196.32L747 195.89L747.5 195.92L748 195.61L748.5 194.72L749 194.9L749.5 194.17L750 194L750.5 193.52L751 193.45L751.5 193.24L752 193.43L752.5 193.15L753 192.25L753.5 192.07L754 192.46L754.5 191.91L755 191.8L755.5 191.63L756 191.1L756.5 190.88L757 190.69L757.5 190.42L758 190.65L758.5 189.89L759 189.57L759.5 189.86L760 189.21L760.5 189.09L761 188.57L761.5 188.42L762 187.79L762.5 187.41L763 187.69L763.5 187.21L764 187.03L764.5 186.69L765 186.18L765.5 185.54L766 185.35L766.5 186.2L767 186.37L767.5 185.94L768 185.97L768.5 185.43L769 185.62L769.5 184.81L770 185.19L770.5 184.75L771 184.39L771.5 184.69L772 183.92L772.5 183.69L773 183.18L773.5 183.19L774 183.15L774.5 182.89L775 182.47L775.5 182.58L776 181.7L776.5 181.54L777 181.61L777.5 181.66L778 181.19L778.5 181.1L779 181.03L779.5 180.52L780 180.75L780 179.8L780.54 179.47L781.09 179.05" fill="none" stroke="#000" stroke-width="3.0" stroke-linejoin="round"/>
<path d="M780 179.8L780.54 179.47L781.09 179.05L781.63 179.07L782.18 179.69L782.72 179.3L783.27 179.15L783.81 179.57L784.36 179.12L784.9 179.08L785.22 178.77L785.54 178.54L785.86 177.5L786.18 177.24L786.5 176.6L786.82 176.45L787.14 175.96L787.46 175.68L787.78 174.96L788.1 174.33L788.42 173.77L788.74 173.48L789.06 172.81L789.38 172.84L789.7 172.37L790.24 172.31L790.79 171.75L791.33 172.32L791.88 172.38L792.42 172.09L792.97 172.31L793.51 172.21L794.06 172.54L794.6 173.45L794.9 173.02L795.2 172.77L795.5 171.73L795.8 171.74L796.1 171.3L796.4 170.79L796.7 170.07L797 169.46L797.3 168.9L797.6 168L797.9 166.48L798.33 165.73L798.77 165.47L799.2 165.09L799.63 165.28L800.07 165.31L800.5 166.13L800.93 165.94L801.37 165.94L801.8 165.18L802.23 165.52L802.67 164.85L803.1 164.06L803.53 163.71L803.97 162.46L804.4 161.93L804.93 161.83L805.47 162.2L806 162.35L806.53 162.62L807.07 162.36L807.6 164.23L808.13 164.38L808.67 164.54L809.2 164.93L809.73 164.77L810.27 164.83L810.8 164.69L811.26 163.73L811.71 163.66L812.17 162.96L812.62 163.24L813.08 162.98L813.53 162.54L813.99 161.9L814.44 162.33L814.9 161.66L815.36 161.97L815.81 161.71L816.27 161.19L816.72 161.41L817.18 161.26L817.63 160.92L818.09 160.55L818.54 160.1L819 159.38L819.41 158.31L819.81 158.34L820.22 158.14L820.62 157.69L821.03 157.51L821.44 156.7L821.84 156.93L822.25 155.89L822.66 156.03L823.06 155.89L823.47 156.27L823.88 156.55L824.28 156.27L824.69 155.76L825.09 155.37L825.5 154.95L826.01 155.06L826.51 154.5L827.02 153.67L827.52 154.04L828.03 153.81L828.54 153.69L829.04 155.13L829.55 156.02L830.06 155.56L830.56 155.56L831.07 155.74L831.58 154.86L832.08 154.02L832.59 153.69L833.09 153.79L833.6 153.71L834.11 153.45L834.61 153.32L835.12 152.68L835.62 152.7L836.13 152.44L836.64 153.18L837.14 153.09L837.65 152.91L838.16 152.52L838.66 153.8L839.17 154.92L839.68 155.2L840.18 155.39L840.69 154.74L841.19 154.44L841.7 154.29L842.16 153.87L842.61 153.74L843.07 153.26L843.53 152.64L843.99 152.02L844.44 151.68L844.9 151.38L845.28 151.54L845.66 150.47L846.05 150.06L846.43 149.58L846.81 149.15L847.19 148.56L847.58 148.5L847.96 147.61L848.34 147.26L848.72 147.7L849.11 147.83L849.49 147.76L849.87 147.53L850.25 147.02L850.64 147.39L851.02 146.9L851.4 146.75L851.65 146.34L851.91 145.47L852.16 145.26L852.42 144.31L852.67 143.99L852.92 143.34L853.18 142.11L853.43 141.51L853.68 141.23L853.94 141.09L854.19 140.48L854.45 139.75L854.7 139.97L855.2 139.99L855.7 139.76L856.2 139.48L856.7 140.22L857.2 140L857.7 139.69L858.2 140.16L858.7 140.71L859.2 141.13L859.7 140.88L860.2 141.06L860.7 140.78L861.2 140.71L861.66 140.8L862.11 140.04L862.57 139.47L863.03 138.6L863.49 136.71L863.94 136.43L864.4 136.29L864.76 136.03L865.12 135.71L865.48 135.4L865.84 134.92L866.21 134.79L866.57 135.49L866.93 135.12L867.29 135.35L867.65 134.93L868.01 134.79L868.37 134.46L868.73 133.72L869.09 133.69L869.46 133.36L869.82 132.82L870.18 131.7L870.54 131.28L870.9 129.99L871.4 129.47L871.9 129.73L872.4 130.45L872.9 129.97L873.4 130.22L873.9 131.26L874.4 132.73L874.9 133.89L875.4 134.1L875.9 133.66L876.4 133.83L876.9 134.66L877.4 134.65L877.89 134.05L878.38 133.9L878.87 133.89L879.36 134.53L879.85 134.09L880.34 134.58L880.83 134.92L881.32 134.82L881.81 135.17L882.3 134.87L882.55 134.36L882.79 133.83L883.04 133.99L883.28 133L883.53 133.23L883.78 132.55L884.02 131.66L884.27 131.69L884.52 130.71L884.76 130.52L885.01 129.72L885.25 129.8L885.5 129.36L885.65 128.65L885.8 127.19L885.94 127.14L886.09 126.18L886.24 125.66L886.39 124.68L886.53 124.24L886.68 123.72L886.83 123.38L886.98 122.3L887.12 121.79L887.27 121.68L887.42 120.97L887.57 120.56L887.71 119.75L887.86 119.84L888.01 118.76L888.16 118.91L888.3 118.39L888.45 117.61L888.6 116.84L888.6 115.14L889.25 118.98" fill="none" stroke="#000" stroke-width="2.5" stroke-linejoin="round"/>
<path d="M888.6 115.14L889.25 118.98L889.93 110.41L890.68 115.98L891.31 101.5L892.07 115.6L892.86 108.89L893.37 116.69L893.85 108.29L894.35 116.39L895.14 105.3L895.61 113.02L896.38 103.41L896.85 112.09L897.49 103.48L898.39 110.86L899.23 101.26L899.83 111.33L900.29 104.08L900.86 111.75L901.45 100.41L902.29 109.8L902.97 99.97L903.44 110.26L904.28 99.98L905.12 109.41L905.66 91.58L906.35 105.34L907.01 89.76L907.72 99.35L908.53 90.25L909.4 99.26L909.87 89.13L910.56 100.07L911.26 84.67L911.84 98.96L912.42 91.94L913.23 102.26L913.88 98.18L914.53 103.77L915.01 100.82L915.75 107.18L916.58 97.46L917.3 106.64L918.17 93.96L918.98 103.39L919.73 93.71L920.31 104.47L921.14 97.95L922 104.19L922.5 99.16L923.3 102.88L923.94 97.71L924.51 101.82L925.26 90.89L925.74 101.16L926.21 89.12L926.79 103.65L927.5 90.84L928.2 102.91L929.06 95.17L929.89 101.14L930.7 97.21L931.33 99.42L931.95 95.59L932.5 97.3L932.99 94.45L933.77 95.73L934.53 92.13L935.35 93.87L935.7 91.1L936.21 90.94" fill="none" stroke="#000" stroke-width="2.2" stroke-linejoin="round"/>
<path d="M935.7 91.1L936.21 90.94L936.71 91L937.22 91.24L937.73 91L938.23 91.47L938.74 91.16L939.24 90.88L939.75 90.55L940.26 90.88L940.76 90.9L941.27 90.85L941.77 90.35L942.28 90.54L942.79 90.54L943.29 90.8L943.8 90.38L944.14 90.25L944.49 90.07L944.83 89.53L945.17 88.4L945.51 88.03L945.86 87.66L946.2 87.45L946.62 87.5L947.04 87.78L947.47 88.06L947.89 88.35L948.31 88.82L948.73 89.28L949.16 89.87L949.58 90.14L950 90.5L950.51 90.55L951.01 90.48L951.52 90.38L952.03 89.95L952.53 90.34L953.04 90.43L953.55 90.15L954.05 90.4L954.56 89.96L955.07 90.28L955.57 89.83L956.08 89.97L956.59 89.67L957.09 89.7L957.6 90.14L958.11 90.25L958.61 90.09L959.12 90.27L959.63 90.57L960.13 90.14L960.64 90.01L961.15 89.85L961.65 89.87L962.16 89.94L962.67 89.76L963.17 89.44L963.68 89.4L964.19 89.48L964.69 89.24L965.2 89.42L965.33 90.33L965.47 90.87L965.6 91.04L965.73 91.81L965.87 92.31L966 92.88L966.5 92.82L967 92.66L967.5 92.41L968 92.84L968.5 92.69L969 93.05L969.04 92.4L969.09 92L969.13 91.75L969.18 90.76L969.22 90.48L969.27 90.04L969.31 89.47L969.36 89.21L969.4 88.38L969.44 88.18L969.49 87.54L969.53 87.2L969.58 86.17L969.62 85.74L969.67 85.28L969.71 85.14L969.76 84.1L969.8 83.74L970.33 84.02L970.86 84.16L971.39 83.58L971.92 83.73L972.45 83.93L972.98 84.01L973.51 84.05L974.04 83.83L974.57 83.24L975.1 83.24L975.12 82.6L975.14 82.49L975.16 81.69L975.18 81.22L975.2 81.13L975.22 80.43L975.24 79.89L975.26 79.42L975.28 78.88L975.3 78.43L975.32 77.69L975.34 77.04L975.36 76.53L975.39 75.99L975.41 75.69L975.43 75.06L975.45 74.53L975.47 74.25L975.49 74.03L975.51 73.35L975.53 72.6L975.55 72.39L975.57 71.53L975.59 70.97L975.61 70.59L975.63 70.14L975.65 69.8L975.67 69.15L975.69 68.81L975.71 67.92L975.73 67.92L975.75 67.06L975.77 66.84L975.79 65.86L975.81 65.83L975.83 64.96L975.85 64.83L975.87 64.29L975.89 63.7L975.91 62.96L975.94 62.29L975.96 61.89L975.98 61.81L976 60.86L976.02 60.65L976.04 60.1L976.06 59.64L976.08 58.84L976.1 58.31L976.12 57.78L976.14 57.8L976.16 56.93L976.18 56.59L976.2 56.03L976.73 55.84L977.27 55.78L977.8 55.78L977.82 56.79L977.84 56.86L977.85 57.86L977.87 58L977.89 58.72L977.91 58.88L977.92 59.77L977.94 59.95L977.96 60.52L977.98 61.12L978 61.38L978.01 61.96L978.03 62.79L978.05 62.99L978.07 63.55L978.08 64.28L978.1 64.46L978.12 64.95L978.14 65.47L978.15 66.07L978.17 66.56L978.19 67.23L978.21 67.63L978.23 68.37L978.24 68.38L978.26 69.26L978.28 69.86L978.3 70L978.31 70.38L978.33 71.13L978.35 71.44L978.37 72.15L978.39 72.81L978.4 72.94L978.42 73.46L978.44 74.18L978.46 74.5L978.47 75.03L978.49 75.66L978.51 75.97L978.53 76.45L978.55 77.13L978.56 77.69L978.58 78.48L978.6 78.75L978.62 78.97L978.63 79.56L978.65 80.38L978.67 80.77L978.69 81.46L978.7 82.02L978.72 82.46L978.74 82.51L978.76 83.51L978.78 83.77L978.79 84.1L978.81 84.56L978.83 85.48L978.85 85.59L978.86 86.02L978.88 86.63L978.9 87.53L979 86.74L979.1 86.4L979.2 85.5L979.3 85.22L979.4 84.63L979.5 84.06L979.6 83.83L979.7 83.14L979.8 82.49L979.9 82.5L980 81.69L980.1 81.07L980.2 80.55L980.3 80.51L980.4 80L980.91 79.83L981.42 80.05L981.93 80.17L982.44 80L982.96 79.77L983.47 79.89L983.98 79.91L984.49 79.89L985 79.54L985.51 79.82L986.02 79.62L986.53 79.41L987.04 79.44L987.56 79.1L988.07 79.37L988.58 78.9L989.09 78.88L989.6 79.06L989.62 78.74L989.63 77.74L989.65 77.31L989.67 76.7L989.68 76.43L989.7 75.75L989.72 75.27L989.73 75.1L989.75 74.49L989.77 74.2L989.78 73.37L989.8 73.03L989.82 72.12L989.83 72.18L989.85 71.24L989.87 70.88L989.88 70.39L989.9 70.15L989.92 69.37L989.93 69.16L989.95 68.43L989.97 67.68L989.98 67.54L990 66.66L990.02 66.63L990.03 65.79L990.05 65.15L990.07 65.08L990.08 64.19L990.1 63.74L990.12 63.19L990.13 62.88L990.15 61.98L990.17 61.69L990.18 61.05L990.2 60.95L990.22 59.94L990.23 59.8L990.25 59.08L990.27 58.69L990.28 58.25L990.3 57.83L990.81 57.49L991.32 57.55L991.83 57.48L992.34 57.98L992.86 57.5L993.37 57.39L993.88 57.52L994.39 57.47L994.9 57.66L994.92 57.67L994.93 58.28L994.95 58.75L994.96 59.5L994.98 59.93L994.99 60.41L995.01 61.2L995.02 61.58L995.04 62.2L995.06 62.77L995.07 62.86L995.09 63.77L995.1 63.96L995.12 64.25L995.13 65.27L995.15 65.29L995.16 65.75L995.18 66.42L995.2 66.93L995.21 67.84L995.23 68.29L995.24 68.52L995.26 69.1L995.27 69.79L995.29 70.28L995.3 70.69L995.32 71.11L995.34 71.38L995.35 71.96L995.37 72.72L995.38 73.18L995.4 73.82L995.41 74.38L995.43 74.93L995.44 74.97L995.46 75.41L995.48 76.41L995.49 76.72L995.51 76.99L995.52 77.81L995.54 78.05L995.55 78.55L995.57 79.13L995.58 79.73L995.6 80.33L996.17 79.97L996.75 80.37L997.33 80.3L997.9 80.2L997.94 79.79L997.98 79.35L998.03 78.35L998.07 78.11L998.11 77.71L998.15 77.21L998.19 76.65L998.24 75.85L998.28 75.79L998.32 75.16L998.36 74.31L998.41 73.91L998.45 73.7L998.49 72.73L998.53 72.33L998.57 72.14L998.62 71.59L998.66 70.66L998.7 70.44L999.22 70.22L999.74 70.4L1000.26 70.46L1000.78 70.08L1001.29 70.06L1001.81 69.99L1002.33 70.02L1002.85 69.89L1003.37 70.04L1003.89 70.93L1004.41 70.94L1004.92 70.73L1005.44 71.03L1005.96 71.17L1006.48 70.91L1007 70.78L1007.04 70.48L1007.08 69.82L1007.11 69.16L1007.15 68.84L1007.19 68.05L1007.23 67.94L1007.27 67.13L1007.3 66.75L1007.34 66.6L1007.38 65.98L1007.42 65.52L1007.46 64.89L1007.5 64.39L1007.53 63.92L1007.57 63.57L1007.61 62.61L1007.65 62.45L1007.69 61.66L1007.72 61.13L1007.76 60.96L1007.8 60.33L1008.38 60.15L1008.95 60.1L1009.52 59.93L1010.1 59.83L1010.13 59.22L1010.15 59.04L1010.18 58.66L1010.21 57.88L1010.23 57.25L1010.26 56.71L1010.29 56.3L1010.31 56.11L1010.34 55.19L1010.37 54.82L1010.39 54.33L1010.42 54.09L1010.45 53.75L1010.47 52.66L1010.5 52.21L1010.53 52.2L1010.55 51.71L1010.58 50.71L1010.61 50.32L1010.63 49.93L1010.66 49.3L1010.69 48.85L1010.71 48.38L1010.74 47.74L1010.77 47.11L1010.79 46.62L1010.82 46.16L1010.85 45.61L1010.87 45.43L1010.9 44.96L1011.4 44.7L1011.9 45.02L1012.4 44.98L1012.42 45.25L1012.44 45.85L1012.45 46.17L1012.47 47.12L1012.49 47.41L1012.51 47.61L1012.53 48.18L1012.54 49.01L1012.56 49.33L1012.58 50.04L1012.6 50.25L1012.62 51.1L1012.63 51.61L1012.65 51.7L1012.67 52.5L1012.69 52.77L1012.71 53.59L1012.72 54.15L1012.74 54.65L1012.76 54.82L1012.78 55.25L1012.79 56.09L1012.81 56.54L1012.83 56.79L1012.85 57.33L1012.87 58.07L1012.88 58.3L1012.9 59.12L1012.92 59.39L1012.94 59.91L1012.96 60.52L1012.97 61.09L1012.99 61.71L1013.01 61.8L1013.03 62.72L1013.05 62.93L1013.06 63.48L1013.08 64.2L1013.1 64.73L1013.12 64.18L1013.14 63.84L1013.15 62.91L1013.17 62.47L1013.19 62.17L1013.21 61.42L1013.22 60.85L1013.24 60.38L1013.26 60.2L1013.28 59.72L1013.3 59.15L1013.31 58.78L1013.33 58.17L1013.35 57.37L1013.37 56.87L1013.38 56.6L1013.4 55.69L1013.42 55.52L1013.44 54.7L1013.46 54.16L1013.47 53.93L1013.49 53.21L1013.51 53.17L1013.53 52.62L1013.54 51.87L1013.56 51.2L1013.58 50.64L1013.6 50.37L1013.62 49.87L1013.63 49.26L1013.65 48.97L1013.67 48.34L1013.69 47.98L1013.7 47.07L1013.72 46.54L1013.74 46.22L1013.76 45.77L1013.78 45.13L1013.79 44.87L1013.81 44.09L1013.83 43.64L1013.85 43.22L1013.86 42.86L1013.88 42.38L1013.9 41.63L1014.48 41.5L1015.05 41.62L1015.62 41.45L1016.2 41.36L1016.22 41.56L1016.23 42.27L1016.25 42.89L1016.26 43.18L1016.28 43.55L1016.3 44.62L1016.31 45.08L1016.33 45.12L1016.34 45.83L1016.36 46.43L1016.38 46.74L1016.39 47.1L1016.41 48.01L1016.42 48.52L1016.44 48.82L1016.45 49.11L1016.47 49.8L1016.49 50.12L1016.5 51.14L1016.52 51.09L1016.53 51.73L1016.55 52.52L1016.57 52.64L1016.58 53.13L1016.6 53.6L1016.61 54.16L1016.63 54.88L1016.65 55.56L1016.66 55.66L1016.68 56.17L1016.69 57.02L1016.71 57.32L1016.73 57.76L1016.74 58.14L1016.76 58.71L1016.77 59.64L1016.79 59.63L1016.8 60.22L1016.82 61.01L1016.84 61.6L1016.85 62.1L1016.87 62.35L1016.88 63.14L1016.9 63.42L1017.48 63.23L1018.05 63.34L1018.62 63.49L1019.2 63.41L1019.22 62.53L1019.24 62.06L1019.25 62.01L1019.27 60.99L1019.29 60.9L1019.31 60.11L1019.32 59.55L1019.34 59.04L1019.36 58.66L1019.38 58.46L1019.4 57.45L1019.41 57.36L1019.43 56.53L1019.45 55.93L1019.47 55.77L1019.48 55.01L1019.5 54.41L1019.52 54.04L1019.54 53.77L1019.56 53.29L1019.57 52.6L1019.59 51.76L1019.61 51.7L1019.63 51.09L1019.64 50.76L1019.66 50.28L1019.68 49.4L1019.7 49.2L1019.72 48.67L1019.73 47.83L1019.75 47.38L1019.77 46.88L1019.79 46.35L1019.8 45.86L1019.82 45.19L1019.84 44.75L1019.86 44.65L1019.88 43.84L1019.89 43.46L1019.91 43.11L1019.93 42.52L1019.95 41.71L1019.96 41.6L1019.98 41.03L1020 40.63L1020.58 40.48L1021.15 40.49L1021.72 40.53L1022.3 40.16L1022.32 40.9L1022.34 41.23L1022.36 42.01L1022.38 42.08L1022.4 42.83L1022.42 43.21L1022.44 44L1022.46 44.21L1022.48 45.01L1022.5 45.51L1022.52 46.03L1022.54 46.09L1022.56 47.07L1022.58 47.45L1022.6 47.91L1022.62 48.39L1022.64 48.53L1022.66 49.53L1022.68 49.83L1022.7 50.28L1022.72 50.71L1022.74 51.47L1022.76 51.97L1022.78 52.53L1022.8 52.63L1022.82 53.21L1022.84 53.65L1022.86 54.06L1022.88 54.7L1022.9 55.02L1022.92 55.98L1022.94 56.14L1022.96 56.55L1022.98 57.04L1023 57.95L1023.58 57.62L1024.15 57.92L1024.72 58.02L1025.3 58.26L1025.33 57.84L1025.37 56.95L1025.4 56.63L1025.43 56.28L1025.47 55.52L1025.5 55.27L1025.53 54.66L1025.57 53.9L1025.6 53.73L1025.63 53.04L1025.67 52.25L1025.7 52.03L1025.73 51.67L1025.77 50.97L1025.8 50.44L1025.83 49.9L1025.87 49.67L1025.9 49.03L1025.93 48.24L1025.97 47.83L1026 47.32L1026.03 47.17L1026.07 46.5L1026.1 45.65L1026.62 46.02L1027.15 45.35L1027.67 45.69L1028.19 45.59L1028.72 45.76L1029.24 45.54L1029.76 45.21L1030.28 45.41L1030.81 45.59L1031.33 45.57L1031.85 45.31L1032.38 45.29L1032.9 45.75L1032.93 46.3L1032.97 46.46L1033 47.38L1033.03 47.96L1033.07 48.14L1033.1 48.61L1033.13 49.32L1033.17 49.95L1033.2 50.02L1033.23 50.59L1033.27 51.11L1033.3 51.86L1033.33 52.04L1033.37 52.76L1033.4 53.24L1033.91 53.34L1034.43 53.03L1034.94 53.52L1035.45 53.54L1035.96 53.23L1036.47 53.31L1036.99 52.91L1037.5 53.34" fill="none" stroke="#000" stroke-width="2.1" stroke-linejoin="miter"/>
<path d="M676 225.8L676.5 225.59L677 225.37L677.5 225.16L678 224.94L678.5 224.73L679 224.51L679.5 224.3L680 224.09L680.5 223.87L681 223.66L681.5 223.44L682 223.23L682.5 223.01L683 222.8L683.5 222.59L684 222.37L684.5 222.16L685 221.94L685.5 221.73L686 221.51L686.5 221.3L687 221.09L687.5 220.87L688 220.66L688.5 220.44L689 220.23L689.5 220L690 219.77L690.5 219.52L691 219.27L691.5 218.98L692 218.7L692.5 218.4L693 218.1L693.5 217.79L694 217.49L694.5 217.18L695 216.88L695.5 216.57L696 216.27L696.5 215.96L697 215.66L697.5 215.35L698 215.05L698.5 214.74L699 214.44L699.5 214.13L700 213.82L700.5 213.52L701 213.21L701.5 212.91L702 212.6L702.5 212.3L703 211.99L703.5 211.69L704 211.38L704.5 211.08L705 210.77L705.5 210.47L706 210.16L706.5 209.86L707 209.55L707.5 209.25L708 208.94L708.5 208.64L709 208.33L709.5 208.03L710 207.72L710.5 207.42L711 207.11L711.5 206.81L712 206.5L712.5 206.2L713 205.89L713.5 205.59L714 205.28L714.5 204.98L715 204.68L715.5 204.4L716 204.12L716.5 203.87L717 203.62L717.5 203.39L718 203.16L718.5 202.94L719 202.72L719.5 202.49L720 202.27L720.5 202.05L721 201.83L721.5 201.61L722 201.39L722.5 201.17L723 200.95L723.5 200.72L724 200.5L724.5 200.28L725 200.06L725.5 199.84L726 199.62L726.5 199.4L727 199.17L727.5 198.95L728 198.73L728.5 198.51L729 198.29L729.5 198.07L730 197.85L730.5 197.58L731 197.03L731.5 197.64L732 197.3L732.5 196.96L733 196.81L733.5 196.02L734 195.97L734.5 196.1L735 196.04L735.5 195.81L736 194.82L736.5 195.12L737 194.74L737.5 194.34L738 193.88L738.5 193.62L739 193.69L739.5 193.47L740 193.02L740.5 192.86L741 192.81L741.5 192.79L742 192.58L742.5 191.91L743 192.39L743.5 191.61L744 191.95L744.5 191.72L745 190.76L745.5 191.28L746 191.43L746.5 190.62L747 190.54L747.5 190.05L748 189.53L748.5 189.47L749 189.15L749.5 188.62L750 188.29L750.5 187.96L751 188.09L751.5 187.57L752 186.94L752.5 187.25L753 186.67L753.5 186.32L754 186.28L754.5 185.82L755 185.25L755.5 185.34L756 185.62L756.5 186.5L757 185.54L757.5 186.03L758 184.77L758.5 183.61L759 183.84L759.5 183.24L760 183.29L760.5 182.63L761 183.09L761.5 182.64L762 182.37L762.5 182.32L763 182.13L763.5 181.5L764 181.21L764.5 180.17L765 180.85L765.5 180.91L766 181.14L766.5 179.58L767 178.3L767.5 177.4L768 177.47L768.5 177.63L769 177.09L769.5 177.85L770 177.36L770.5 177.25L771 176.93L771.5 177.34L772 176.22L772.5 176.82L773 176L773.5 176.51L774 176.04L774.5 175.48L775 175.75L775.5 175.09L776 175.29L776.5 174.57L777 175.18L777.5 175.02L778 174.05L778.5 174.59L779 174.02L779.5 174.39L780 174.9L780.54 175.26L781.09 175.61L781.63 175.73L782.18 176.31L782.72 176.27L783.27 176.37L783.81 175.94L784.36 174.88L784.9 174.76L785.22 174.15L785.54 174.26L785.86 173.2L786.18 173.02L786.5 173.05L786.82 173.06L787.14 173.13L787.46 172.92L787.78 171.87L788.1 171.79L788.42 171.45L788.74 171.02L789.06 170.34L789.38 169.9L789.7 168.87L790.24 168.83L790.79 169.11L791.33 169.25L791.88 170.14L792.42 169.55L792.97 170.05L793.51 168.36L794.06 167.36L794.6 167.65L794.9 167.11L795.2 166.52L795.5 165.83L795.8 164.63L796.1 164.63L796.4 164.34L796.7 163.51L797 163.11L797.3 163.23L797.6 163.2L797.9 163.07L798.28 163.36L798.66 163.02L799.05 162.91L799.43 162.31L799.81 162.03L800.19 160.2L800.57 159.73L800.95 159.56L801.34 159.77L801.72 159.08L802.1 158.74L802.14 158.39L802.18 157.91L802.22 157.99L802.26 157.29L802.3 156.51L802.34 155.75L802.38 155.13L802.42 154.71L802.46 154.93L802.5 154.23L802.54 154.24L802.58 155.21L802.62 155.14L802.66 156.09L802.7 156.42L802.74 156.69L802.78 157.83L802.82 158.3L802.86 158.59L802.9 158.75L803.4 159.56L803.9 160.48L804.4 160.71L804.93 160.21L805.47 160.4L806 158.92L806.53 159.21L807.07 159.45L807.6 159.33L808.13 159.5L808.67 160.34L809.2 160.71L809.73 160.12L810.27 160.12L810.8 160.04L811.26 158.77L811.71 158.71L812.17 158.77L812.62 158.33L813.08 158.63L813.53 158.52L813.99 158.76L814.44 158.98L814.9 158.69L815.36 156.98L815.81 156.48L816.27 156.24L816.72 155.71L817.18 155.96L817.63 155.66L818.09 156.13L818.54 155.39L819 155.8L819.41 155.38L819.81 156.08L820.22 156.15L820.62 156.19L821.03 155.54L821.44 155.8L821.84 154.29L822.25 152.6L822.66 152.7L823.06 151.47L823.47 151.83L823.88 152.44L824.28 152.78L824.69 152.69L825.09 152.12L825.5 152.16L825.6 151.28L825.62 150.38L825.64 150.2L825.66 149.35L825.68 149.17L825.7 148.21L825.72 148.39L825.74 147.32L825.76 146.36L825.78 145.94L825.8 146.08L825.82 145.72L825.84 144.99L825.86 144.01L825.88 144.23L825.9 143.57L825.92 142.47L825.94 142.23L825.96 142.02L825.98 140.86L826 140.4L826.02 141.21L826.04 142.23L826.06 142.85L826.08 142.67L826.1 143.76L826.12 144.14L826.14 144.72L826.16 144.94L826.18 145.82L826.2 146L826.22 146.8L826.24 146.92L826.26 147.05L826.28 147.87L826.3 148.34L826.32 148.69L826.34 149.23L826.36 149.87L826.38 150.44L826.4 150.58L826.91 148.82L827.43 148.88L827.94 150.52L828.46 151.24L828.97 151.29L829.49 148.69L830 149.04L830.51 148.9L831.03 149.42L831.54 149.35L832.06 149.63L832.57 150.49L833.09 150.74L833.6 151.42L834.11 150.91L834.61 150.68L835.12 150.65L835.62 151.14L836.13 151.65L836.64 151.66L837.14 151.23L837.65 151.38L838.16 150.73L838.66 150.8L839.17 150.61L839.68 150.46L840.18 150.43L840.69 150.73L841.19 150.61L841.7 148.57L841.68 148.11L841.65 148.19L841.62 147.58L841.6 147.12L841.63 146.44L841.66 145.86L841.69 144.8L841.71 143.95L841.74 143.61L841.77 142.64L841.8 142.93L841.83 141.85L841.86 141.36L841.89 141.01L841.91 140.21L841.94 139L841.97 138.46L842 137.59L842.03 138.64L842.06 139.05L842.09 139.3L842.11 139.68L842.14 140.08L842.17 140.8L842.2 141.52L842.23 142.21L842.26 142.66L842.29 143.18L842.31 143.25L842.34 143.73L842.37 144.12L842.4 145.28L842.9 144.49L843.4 144.46L843.9 145.01L844.4 147.28L844.9 147.97L845.28 147.12L845.66 147.3L846.05 147.01L846.43 145.62L846.81 142.94L847.19 142.63L847.58 141.89L847.96 141.3L848.34 141.74L848.72 140.97L849.11 141.73L849.49 142.73L849.87 142.59L850.25 142.02L850.64 142.05L851.02 141.71L851.4 141.01L851.65 140.93L851.91 141.21L852.16 140.67L852.42 140.89L852.67 140.4L852.92 139.53L853.18 138.93L853.43 139.14L853.68 138.32L853.94 134.46L854.19 133.34L854.45 133.55L854.7 133.17L855.18 132.49L855.67 132.96L856.15 133.07L856.63 132.95L857.12 134.3L857.6 135.9L857.64 135.72L857.68 135.18L857.72 134.58L857.76 133.7L857.8 133.29L857.84 132.89L857.88 132.49L857.92 131.94L857.96 131.98L858 130.69L858.04 132.06L858.08 131.82L858.12 132.93L858.16 132.82L858.2 133.66L858.24 133.95L858.28 134.11L858.32 135.37L858.36 135.89L858.4 135.84L858.96 136.03L859.52 133.98L860.08 134.48L860.64 135.38L861.2 135.87L861.66 135.37L862.11 135.43L862.57 136.14L863.03 136.58L863.49 135.95L863.94 135.44L864.4 135.52L864.76 134.48L865.12 134.3L865.48 134.44L865.84 133.77L866.21 133.96L866.57 132.4L866.93 130.87L867.29 129.43L867.65 128.86L868.01 128.58L868.37 128.22L868.73 127.68L869.09 127.11L869.46 126.83L869.82 126.25L870.18 126.3L870.54 125.75L870.9 126.57L871.33 127.6L871.75 129.69L872.17 130.08L872.6 130.36L872.65 130.35L872.7 129.2L872.75 129.37L872.8 128.35L872.85 127.83L872.9 127.61L872.95 127.05L873 126.28L873.05 126.58L873.1 127.95L873.15 127.86L873.2 128.11L873.25 129.15L873.3 129.53L873.35 129.82L873.4 130.32L873.9 130.8L874.4 128L874.9 126.6L875.4 127.14L875.9 126.54L876.4 126.53L876.9 126.23L877.4 126.73L877.89 127.33L878.38 129.52L878.87 129.61L879.36 129.57L879.85 129.28L880.34 129.08L880.83 129.59L881.32 128.64L881.81 127.7L882.3 126.81L882.55 126.53L882.79 126.8L883.04 126.05L883.28 125.57L883.53 124.92L883.78 125.45L884.02 126.12L884.27 126.81L884.52 126.82L884.76 126.4L885.01 125.49L885.25 125.41L885.5 124.43L885.65 124.41L885.8 123.47L885.94 123.03L886.09 122L886.24 121.41L886.39 120.16L886.53 119.68L886.68 119.28L886.83 118.3L886.98 117.98L887.12 117.85L887.27 117.21L887.42 116.78L887.57 116.45L887.71 115.74L887.86 114.89L888.01 114.61L888.16 114.5L888.3 113.73L888.45 113.42L888.6 112.59" fill="none" stroke="#000" stroke-width="1.4" stroke-dasharray="8 2.5 1.65 2.5" stroke-linejoin="round"/>
<path d="M935.7 89.9L936.21 90.72L936.71 91.29L937.22 90.75L937.73 89.35L938.23 88.59L938.74 89.15L939.24 88.41L939.75 89.4L940.26 89.14L940.76 88.59L941.27 87.99L941.77 88.63L942.28 87.78L942.79 88.51L943.29 88.61L943.8 88.85L944.14 89.84L944.49 88.9L944.83 88.96L945.17 88.39L945.51 87.81L945.86 87.81L946.2 86.62L946.62 87.78L947.04 87.43L947.47 87.42L947.89 88.34L948.31 88.45L948.73 88.78L949.16 89.76L949.58 89.48L950 89.56L950.51 88.84L951.01 88.7L951.52 89.45L952.03 89.4L952.53 89.34L953.04 89.07L953.55 87.94L954.05 88.3L954.56 87.65L955.07 88.41L955.57 88.24L956.08 88.14L956.59 87.53L957.09 87.35L957.6 88.33L958.11 87.86L958.61 87.92L959.12 88.21L959.63 87.32L960.13 87.97L960.64 87.78L961.15 88.6L961.65 88.46L962.16 88.12L962.67 89.01L963.17 88.18L963.68 88.64L964.19 88.44L964.69 87.59L965.2 88.1L965.33 88.24L965.47 88.54L965.6 89.03L965.73 90.41L965.87 90.21L966 90.88L966.5 91.01L967 91.04L967.5 92.19L968 92.18L968.5 92.34L969 91.34L969.04 90.63L969.09 90.29L969.13 90.25L969.18 89.65L969.22 88.84L969.27 88.48L969.31 87.53L969.36 87.94L969.4 86.9L969.44 86.44L969.49 86.27L969.53 85.05L969.58 85.18L969.62 84.23L969.67 84.28L969.71 82.91L969.76 82.62L969.8 82.55L970.33 82.36L970.86 81.88L971.39 81.75L971.92 81.32L972.45 81.58L972.98 81.06L973.51 82.08L974.04 81.53L974.57 82.22L975.1 81.89L975.12 81.44L975.14 80.96L975.16 79.85L975.18 80.13L975.2 79.04L975.22 79.21L975.24 78.61L975.26 77.98L975.28 77.63L975.3 76.67L975.32 76.45L975.34 76.28L975.36 74.85L975.39 74.24L975.41 74.11L975.43 73.72L975.45 72.78L975.47 72.35L975.49 72.62L975.51 71.54L975.53 70.75L975.55 70.28L975.57 70.25L975.59 69.31L975.61 69.2L975.63 68.83L975.65 68.26L975.67 67.89L975.69 67.84L975.71 66.41L975.73 67.06L975.75 65.73L975.77 65.09L975.79 65.52L975.81 64.83L975.83 64.34L975.85 63.51L975.87 63.74L975.89 62.72L975.91 62.78L975.94 61.73L975.96 61.7L975.98 61.34L976 60.56L976.02 60.24L976.04 59.29L976.06 59.54L976.08 59.15L976.1 58.05L976.12 58.08L976.14 57.85L976.16 56.63L976.18 57.01L976.2 56.54L976.73 55.55L977.27 55.79L977.8 55.59L977.82 56.3L977.84 56.6L977.85 57.59L977.87 57.81L977.89 58.37L977.91 59.07L977.92 59.46L977.94 60.46L977.96 60.89L977.98 60.66L978 61.3L978.01 61.54L978.03 62.43L978.05 62.68L978.07 63.89L978.08 64.5L978.1 65.26L978.12 64.82L978.14 65.12L978.15 66.5L978.17 66.59L978.19 67.72L978.21 67.58L978.23 67.99L978.24 68.21L978.26 69.77L978.28 69.75L978.3 70.17L978.31 70.67L978.33 71.58L978.35 72.16L978.37 72.24L978.39 72.39L978.4 73.17L978.42 74.26L978.44 74.18L978.46 75L978.47 75.38L978.49 75.77L978.51 76.41L978.53 76.52L978.55 77.41L978.56 78.28L978.58 77.85L978.6 78.7L978.62 79.82L978.63 80.44L978.65 79.79L978.67 81.04L978.69 81.55L978.7 82.31L978.72 82.37L978.74 82.47L978.76 83.18L978.78 84.18L978.79 84.71L978.81 84.58L978.83 85.62L978.85 86.14L978.86 86.65L978.88 86.39L978.9 87.4L979 86.78L979.1 86.6L979.2 85.78L979.3 85.02L979.4 85.17L979.5 84.2L979.6 84.3L979.7 83.21L979.8 82.99L979.9 82.8L980 81.46L980.1 81.69L980.2 80.39L980.3 80.92L980.4 79.32L980.91 80.12L981.42 78.73L981.93 78.27L982.44 78.48L982.96 78.57L983.47 78.5L983.98 78.38L984.49 78.94L985 78.63L985.51 79.39L986.02 78.64L986.53 78.88L987.04 78.64L987.56 79.49L988.07 78.66L988.58 79.18L989.09 79.41L989.6 78.84L989.62 78.77L989.63 77.69L989.65 76.98L989.67 76.39L989.68 76.37L989.7 76.38L989.72 75.06L989.73 74.84L989.75 74.72L989.77 73.63L989.78 72.97L989.8 72.91L989.82 72.29L989.83 72.4L989.85 71.84L989.87 70.54L989.88 70.42L989.9 69.74L989.92 68.77L989.93 68.76L989.95 68.82L989.97 67.58L989.98 67.41L990 67.05L990.02 65.77L990.03 66.29L990.05 64.81L990.07 64.53L990.08 64.52L990.1 63.18L990.12 63.1L990.13 62.29L990.15 62.2L990.17 61.15L990.18 60.79L990.2 60.32L990.22 59.59L990.23 59.03L990.25 58.6L990.27 58.42L990.28 57.4L990.3 57.66L990.81 55.49L991.32 55.21L991.83 55.2L992.34 55.92L992.86 54.98L993.37 55.86L993.88 55.09L994.39 56.11L994.9 55.47L994.92 56.2L994.93 57.03L994.95 56.62L994.96 57.08L994.98 58.34L994.99 58.72L995.01 59.39L995.02 59.36L995.04 60.13L995.06 60.27L995.07 61.07L995.09 61.39L995.1 62.27L995.12 62.43L995.13 62.91L995.15 63.85L995.16 63.69L995.18 65.06L995.2 65.2L995.21 65.38L995.23 65.75L995.24 66.73L995.26 67.23L995.27 68L995.29 68.09L995.3 68.64L995.32 69.73L995.34 69.49L995.35 70.85L995.37 71.25L995.38 71.87L995.4 72.32L995.41 72.01L995.43 73.18L995.44 73.44L995.46 73.45L995.48 74.9L995.49 74.99L995.51 75.68L995.52 75.88L995.54 75.81L995.55 77.25L995.57 76.93L995.58 77.53L995.6 78.46L996.17 77.79L996.75 78.09L997.33 78.4L997.9 77.65L997.94 77.81L997.98 76.62L998.03 76.55L998.07 76.23L998.11 75.76L998.15 74.46L998.19 74.12L998.24 74.52L998.28 73.32L998.32 72.84L998.36 72.26L998.41 72.15L998.45 71.73L998.49 71.15L998.53 70.38L998.57 70.11L998.62 69.58L998.66 68.72L998.7 69.16L999.22 69.81L999.74 69.84L1000.26 70.1L1000.78 69.47L1001.29 69.91L1001.81 68.98L1002.33 68.94L1002.85 68.7L1003.37 68.97L1003.89 68.84L1004.41 68.9L1004.92 68.59L1005.44 69.42L1005.96 69.05L1006.48 68.85L1007 69.73L1007.04 69.83L1007.08 69.47L1007.11 69.06L1007.15 68.4L1007.19 67.3L1007.23 66.78L1007.27 66.77L1007.3 65.84L1007.34 65.48L1007.38 64.69L1007.42 64.25L1007.46 64.42L1007.5 63.33L1007.53 63.57L1007.57 62.44L1007.61 62.56L1007.65 61.4L1007.69 60.85L1007.72 60.5L1007.76 59.54L1007.8 59.54L1008.38 58.7L1008.95 58.16L1009.52 60L1010.1 59.56L1010.13 58.61L1010.15 59.25L1010.18 57.87L1010.21 57.39L1010.23 56.61L1010.26 56.19L1010.29 56.42L1010.31 55.76L1010.34 55.16L1010.37 54.34L1010.39 53.88L1010.42 54.2L1010.45 52.97L1010.47 53.21L1010.5 52.58L1010.53 51.16L1010.55 51.52L1010.58 50.02L1010.61 50.34L1010.63 49.95L1010.66 49.31L1010.69 48.63L1010.71 48.44L1010.74 47.14L1010.77 47.09L1010.79 46.26L1010.82 45.91L1010.85 45.16L1010.87 45.27L1010.9 44.6L1011.4 44.28L1011.9 43L1012.4 42.51L1012.42 43.4L1012.44 43.78L1012.45 43.99L1012.47 44.21L1012.49 45.44L1012.51 45.28L1012.53 45.47L1012.54 46.25L1012.56 47.21L1012.58 47.98L1012.6 48.15L1012.62 48.68L1012.63 49.51L1012.65 49.83L1012.67 49.94L1012.69 50.47L1012.71 51.33L1012.72 51.31L1012.74 51.57L1012.76 52.69L1012.78 53.42L1012.79 53.26L1012.81 54.29L1012.83 55.05L1012.85 54.63L1012.87 55.15L1012.88 56.09L1012.9 56.41L1012.92 57.65L1012.94 58.22L1012.96 58.06L1012.97 58.99L1012.99 59.3L1013.01 59.26L1013.03 60.72L1013.05 60.28L1013.06 60.67L1013.08 61.62L1013.1 61.61L1013.12 61.66L1013.14 61.07L1013.15 61.21L1013.17 60.05L1013.19 60.06L1013.21 59.47L1013.22 58.73L1013.24 57.8L1013.26 57.38L1013.28 57.09L1013.3 56.47L1013.31 56.26L1013.33 55.58L1013.35 54.85L1013.37 54.68L1013.38 54.64L1013.4 53.18L1013.42 52.83L1013.44 51.94L1013.46 51.52L1013.47 50.97L1013.49 50.9L1013.51 50.89L1013.53 50.21L1013.54 50.03L1013.56 49.36L1013.58 48.55L1013.6 48.04L1013.62 46.85L1013.63 46.78L1013.65 46.13L1013.67 46.05L1013.69 44.87L1013.7 44.94L1013.72 44.23L1013.74 43.86L1013.76 43.25L1013.78 42.37L1013.79 42.62L1013.81 42.19L1013.83 41.44L1013.85 40.36L1013.86 40.43L1013.88 40.24L1013.9 39.87L1014.48 40.26L1015.05 39.52L1015.62 40.35L1016.2 39.92L1016.22 39.95L1016.23 41.22L1016.25 41.61L1016.26 42.19L1016.28 41.92L1016.3 42.81L1016.31 43.07L1016.33 43.47L1016.34 44.53L1016.36 44.86L1016.38 45.02L1016.39 45.78L1016.41 46.75L1016.42 46.83L1016.44 47.76L1016.45 47.86L1016.47 48.88L1016.49 48.24L1016.5 49.27L1016.52 49.89L1016.53 50.61L1016.55 51.42L1016.57 51.52L1016.58 51.85L1016.6 52.55L1016.61 52.95L1016.63 53.67L1016.65 54.47L1016.66 53.86L1016.68 54.74L1016.69 55.92L1016.71 55.46L1016.73 56.84L1016.74 56.45L1016.76 57.7L1016.77 58.4L1016.79 58.23L1016.8 58.92L1016.82 59.25L1016.84 60.33L1016.85 60.63L1016.87 61.24L1016.88 61.42L1016.9 62.24L1017.48 62.94L1018.05 62.73L1018.62 62.94L1019.2 62.43L1019.22 62.26L1019.24 61.61L1019.25 61.07L1019.27 61.13L1019.29 59.89L1019.31 59.86L1019.32 59.63L1019.34 59.33L1019.36 57.74L1019.38 57.56L1019.4 57.33L1019.41 57.37L1019.43 55.93L1019.45 56.24L1019.47 55.2L1019.48 54.88L1019.5 54.83L1019.52 53.28L1019.54 53.09L1019.56 52.38L1019.57 51.85L1019.59 51.54L1019.61 51.51L1019.63 50.86L1019.64 49.8L1019.66 50.11L1019.68 49.25L1019.7 48.31L1019.72 48.62L1019.73 48.11L1019.75 46.88L1019.77 47.24L1019.79 46.58L1019.8 45.37L1019.82 44.59L1019.84 45.13L1019.86 44.57L1019.88 43.19L1019.89 43.48L1019.91 42.99L1019.93 42.31L1019.95 42.04L1019.96 41.72L1019.98 40.43L1020 40.53L1020.58 40.6L1021.15 37.83L1021.72 38.28L1022.3 38.28L1022.32 38.97L1022.34 39.14L1022.36 39.29L1022.38 39.76L1022.4 40.61L1022.42 40.62L1022.44 41.99L1022.46 42.52L1022.48 42.25L1022.5 43.29L1022.52 43.76L1022.54 43.6L1022.56 44.89L1022.58 45.37L1022.6 45.32L1022.62 45.57L1022.64 46.29L1022.66 47.38L1022.68 47.51L1022.7 48.43L1022.72 48.14L1022.74 48.58L1022.76 49.37L1022.78 50.5L1022.8 50.14L1022.82 50.53L1022.84 51.85L1022.86 51.55L1022.88 52.74L1022.9 52.54L1022.92 53.24L1022.94 54.23L1022.96 54.99L1022.98 54.93L1023 55.48L1023.58 54.95L1024.15 55.32L1024.72 55.2L1025.3 56.38L1025.33 55.85L1025.37 55.5L1025.4 54.77L1025.43 54.54L1025.47 53.42L1025.5 53.29L1025.53 52.69L1025.57 52.17L1025.6 52.21L1025.63 51.07L1025.67 50.7L1025.7 50.14L1025.73 50.33L1025.77 49.55L1025.8 48.85L1025.83 48.22L1025.87 48.36L1025.9 47.88L1025.93 46.78L1025.97 46.41L1026 46.26L1026.03 45.02L1026.07 44.52L1026.1 43.82L1026.62 44.3L1027.15 43.86L1027.67 43.01L1028.19 43.34L1028.72 44.01L1029.24 43.57L1029.76 43.88L1030.28 44.64L1030.81 44.7L1031.33 44.08L1031.85 43.78L1032.38 44.3L1032.9 44.08L1032.93 44.78L1032.97 44.95L1033 45.01L1033.03 45.75L1033.07 45.96L1033.1 46.64L1033.13 47.16L1033.17 48.2L1033.2 48.7L1033.23 49.23L1033.27 49.2L1033.3 50.29L1033.33 49.8L1033.37 51.25L1033.4 51.42L1033.91 51.7L1034.43 51.15L1034.94 51.84L1035.45 50.67L1035.96 51.62L1036.47 51.56L1036.99 51.02L1037.5 51.57" fill="none" stroke="#000" stroke-width="1.4" stroke-dasharray="8 2.5 1.65 2.5" stroke-linejoin="round"/>
<path d="M676 231.2L1036 47.38" fill="none" stroke="#ff00ff" stroke-width="1.8" stroke-dasharray="2.9 3.77"/>
<path d="M938.5 220.3L1017.6 220.3" fill="none" stroke="#000" stroke-width="1.4" stroke-dasharray="8 2.5 1.65 2.5"/>
<path d="M938.5 261.8L1017.6 261.8" fill="none" stroke="#000" stroke-width="2.8"/>
<path d="M938.5 303.8L1017.6 303.8" fill="none" stroke="#ff00ff" stroke-width="1.8" stroke-dasharray="2.9 3.77"/>
<path d="M938.5 345.8L1017.6 345.8" fill="none" stroke="#0000ff" stroke-width="2.8"/>
<path d="M938.5 387.6L1017.6 387.6" fill="none" stroke="#00ffff" stroke-width="1.8" stroke-dasharray="2.9 3.77"/>
<text x="926.6" y="226" font-size="26" font-style="italic" text-anchor="end">R<tspan font-size="17" dy="4.5">typ</tspan><tspan font-size="33" font-style="normal" dx="0.3" dy="0.7">/</tspan><tspan dx="0.3" dy="-5.2">L</tspan><tspan font-size="17" dy="4.5">D</tspan></text>
<text x="926.6" y="267.5" font-size="26" font-style="italic" text-anchor="end">R<tspan font-size="17" dy="4.5">av</tspan><tspan font-size="33" font-style="normal" dx="0.3" dy="0.7">/</tspan><tspan dx="0.3" dy="-5.2">L</tspan><tspan font-size="17" dy="4.5">D</tspan></text>
<text x="926.6" y="312.3" font-size="26" font-style="italic" text-anchor="end">t<tspan font-size="17" font-style="normal" dy="-9.4">0.32</tspan></text>
<text x="926.6" y="351.6" font-size="26" font-style="italic" text-anchor="end">ℓ<tspan font-size="17" dy="4.5">s</tspan><tspan font-size="33" font-style="normal" dx="0.3" dy="0.7">/</tspan><tspan dx="0.3" dy="-5.2">L</tspan><tspan font-size="17" dy="5.5">D</tspan></text>
<text x="914.1" y="343.7" font-size="17">2</text>
<text x="926.6" y="396.1" font-size="26" font-style="italic" text-anchor="end">t<tspan font-size="17" font-style="normal" dy="-9.4">0.34</tspan></text>
</svg>
</body></html>
